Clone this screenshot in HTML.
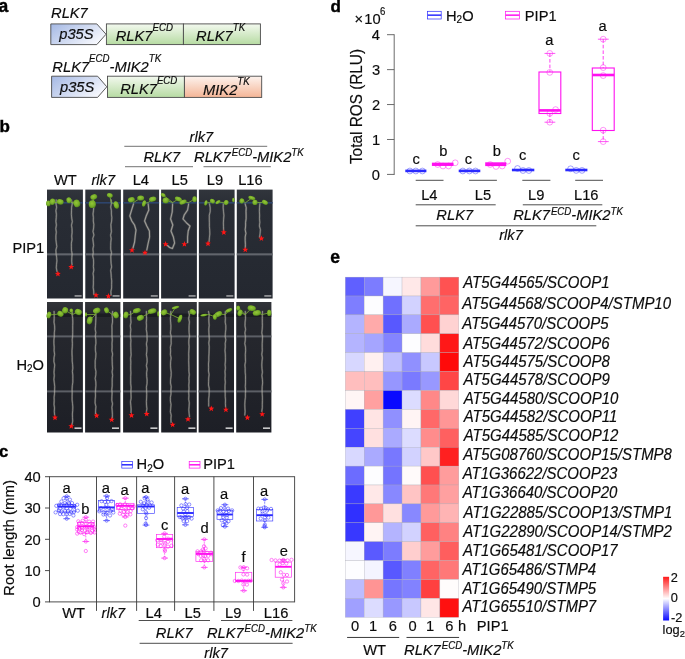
<!DOCTYPE html>
<html><head><meta charset="utf-8"><title>Figure</title>
<style>
html,body{margin:0;padding:0;background:#fff;}
svg{display:block;font-family:"Liberation Sans",sans-serif;fill:#0c0c0c;opacity:0.999;}
text{stroke:#0c0c0c;stroke-width:0.16px;}
</style></head>
<body>
<svg width="685" height="659" viewBox="0 0 685 659">
<defs>
<radialGradient id="lf" cx="0.45" cy="0.4" r="0.65"><stop offset="0" stop-color="#94c638"/><stop offset="0.6" stop-color="#76ad29"/><stop offset="1" stop-color="#4c7e19"/></radialGradient>
<filter id="soft" x="-5%" y="-5%" width="110%" height="110%"><feGaussianBlur stdDeviation="0.35"/></filter>
<linearGradient id="gb" x1="0" y1="0" x2="1" y2="0.55"><stop offset="0" stop-color="#a4b8e4"/><stop offset="1" stop-color="#f4f6fc"/></linearGradient>
<linearGradient id="gg" x1="0" y1="0" x2="0" y2="1"><stop offset="0" stop-color="#f3f9ef"/><stop offset="1" stop-color="#b6dba2"/></linearGradient>
<linearGradient id="go" x1="0" y1="0" x2="0" y2="1"><stop offset="0" stop-color="#fdf3ee"/><stop offset="1" stop-color="#f4b596"/></linearGradient>
<linearGradient id="pd" x1="0" y1="0" x2="0" y2="1"><stop offset="0" stop-color="#31353c"/><stop offset="0.14" stop-color="#292d35"/><stop offset="1" stop-color="#242830"/></linearGradient>
<linearGradient id="pd2" x1="0" y1="0" x2="0" y2="1"><stop offset="0" stop-color="#323439"/><stop offset="0.1" stop-color="#27292f"/><stop offset="1" stop-color="#1d1f26"/></linearGradient>
<linearGradient id="cb" x1="0" y1="0" x2="0" y2="1"><stop offset="0" stop-color="#ff1a1a"/><stop offset="0.5" stop-color="#ffffff"/><stop offset="1" stop-color="#0a0aff"/></linearGradient>
</defs>
<rect x="0" y="0" width="685" height="659" fill="#ffffff"/>
<text transform="translate(-1.40 11.90) scale(1 1.000)" font-size="17.5" font-weight="bold" style="fill:#000;stroke:#000;stroke-width:0.4px">a</text>
<text transform="translate(51.05 18.00) scale(1 1.042)" font-size="14.7" font-style="italic">RLK7</text>
<path d="M50.8 23.9H96.8L106.0 34.25L96.8 44.6H50.8Z" fill="url(#gb)" stroke="#4a4a4a" stroke-width="0.9"/>
<rect x="106.4" y="23.9" width="77.0" height="20.700000000000003" fill="url(#gg)" stroke="#4a4a4a" stroke-width="0.9"/>
<rect x="183.4" y="23.9" width="76.99999999999997" height="20.700000000000003" fill="url(#gg)" stroke="#4a4a4a" stroke-width="0.9"/>
<text transform="translate(59.27 39.20) scale(1 1.032)" font-size="14.7" font-style="italic">p35S</text>
<text transform="translate(115.75 41.00) scale(1 1.042)" font-size="14.7" font-style="italic">RLK7<tspan font-size="9.7" dy="-9.6">ECD</tspan><tspan dy="9.6" font-size="1">&#8203;</tspan></text>
<text transform="translate(196.05 41.40) scale(1 1.042)" font-size="14.7" font-style="italic">RLK7<tspan font-size="9.7" dy="-9.6">TK</tspan><tspan dy="9.6" font-size="1">&#8203;</tspan></text>
<text transform="translate(52.35 72.40) scale(1 1.042)" font-size="14.7" font-style="italic">RLK7<tspan font-size="9.7" dy="-10">ECD</tspan><tspan dy="10" font-size="1">&#8203;</tspan>-MIK2<tspan font-size="9.7" dy="-10">TK</tspan><tspan dy="10" font-size="1">&#8203;</tspan></text>
<path d="M51.6 76.2H97.6L106.8 86.80000000000001L97.6 97.4H51.6Z" fill="url(#gb)" stroke="#4a4a4a" stroke-width="0.9"/>
<rect x="107.5" y="76.2" width="76.9" height="21.200000000000003" fill="url(#gg)" stroke="#4a4a4a" stroke-width="0.9"/>
<rect x="184.4" y="76.2" width="77.29999999999998" height="21.200000000000003" fill="url(#go)" stroke="#4a4a4a" stroke-width="0.9"/>
<text transform="translate(59.97 92.20) scale(1 1.032)" font-size="14.7" font-style="italic">p35S</text>
<text transform="translate(120.15 94.30) scale(1 1.042)" font-size="14.7" font-style="italic">RLK7<tspan font-size="9.7" dy="-9.6">ECD</tspan><tspan dy="9.6" font-size="1">&#8203;</tspan></text>
<text transform="translate(203.05 95.00) scale(1 1.042)" font-size="14.7" font-style="italic">MIK2<tspan font-size="9.7" dy="-9.6">TK</tspan><tspan dy="9.6" font-size="1">&#8203;</tspan></text>
<text transform="translate(-0.60 132.30) scale(1 1.000)" font-size="17" font-weight="bold" style="fill:#000;stroke:#000;stroke-width:0.4px">b</text>
<text transform="translate(201.45 142.10) scale(1 1.010)" font-size="14.7" font-style="italic" text-anchor="middle">rlk7</text>
<line x1="124.30" y1="146.40" x2="267.20" y2="146.40" stroke="#8e8e8e" stroke-width="1.25"/>
<text transform="translate(143.45 161.50) scale(1 1.042)" font-size="14.7" font-style="italic">RLK7</text>
<text transform="translate(194.05 161.50) scale(1 1.042)" font-size="14.7" font-style="italic">RLK7<tspan font-size="9.7" dy="-5.3" dx="0.9">ECD</tspan><tspan dy="5.3" font-size="1">&#8203;</tspan>-MIK2<tspan font-size="9.7" dy="-5.3">TK</tspan><tspan dy="5.3" font-size="1">&#8203;</tspan></text>
<line x1="125.00" y1="166.70" x2="193.00" y2="166.70" stroke="#8e8e8e" stroke-width="1.25"/>
<line x1="203.50" y1="166.70" x2="270.80" y2="166.70" stroke="#8e8e8e" stroke-width="1.25"/>
<text transform="translate(53.94 185.30) scale(1 1.042)" font-size="14.7">WT</text>
<text transform="translate(91.46 185.30) scale(1 1.010)" font-size="14.7" font-style="italic">rlk7</text>
<text transform="translate(132.69 185.30) scale(1 1.042)" font-size="14.7">L4</text>
<text transform="translate(171.59 185.30) scale(1 1.042)" font-size="14.7">L5</text>
<text transform="translate(206.79 185.30) scale(1 1.042)" font-size="14.7">L9</text>
<text transform="translate(238.19 185.30) scale(1 1.042)" font-size="14.7">L16</text>
<text transform="translate(12.39 253.00) scale(1 1.042)" font-size="14.7">PIP1</text>
<text transform="translate(16.39 369.80) scale(1 1.042)" font-size="14.7">H<tspan font-size="10.0" dy="2.3">2</tspan><tspan dy="-2.3">O</tspan></text>
<rect x="47.0" y="189.6" width="35.9" height="108.9" fill="url(#pd)"/>
<rect x="47.0" y="202" width="35.9" height="1.6" fill="#2d446c"/>
<rect x="47.0" y="253.3" width="35.9" height="2.1" fill="#62656c"/>
<rect x="74.6" y="295.4" width="7" height="1.1" fill="#cfcfcf"/>
<rect x="85.3" y="189.6" width="35.6" height="108.9" fill="url(#pd)"/>
<rect x="85.3" y="202" width="35.6" height="1.6" fill="#2d446c"/>
<rect x="85.3" y="253.3" width="35.6" height="2.1" fill="#62656c"/>
<rect x="112.6" y="295.4" width="7" height="1.1" fill="#cfcfcf"/>
<rect x="123.2" y="189.6" width="35.9" height="108.9" fill="url(#pd)"/>
<rect x="123.2" y="202" width="35.9" height="1.6" fill="#2d446c"/>
<rect x="123.2" y="253.3" width="35.9" height="2.1" fill="#62656c"/>
<rect x="150.8" y="295.4" width="7" height="1.1" fill="#cfcfcf"/>
<rect x="161.1" y="189.6" width="35.8" height="108.9" fill="url(#pd)"/>
<rect x="161.1" y="202" width="35.8" height="1.6" fill="#2d446c"/>
<rect x="161.1" y="253.3" width="35.8" height="2.1" fill="#62656c"/>
<rect x="188.6" y="295.4" width="7" height="1.1" fill="#cfcfcf"/>
<rect x="198.9" y="189.6" width="35.7" height="108.9" fill="url(#pd)"/>
<rect x="198.9" y="202" width="35.7" height="1.6" fill="#2d446c"/>
<rect x="198.9" y="253.3" width="35.7" height="2.1" fill="#62656c"/>
<rect x="226.3" y="295.4" width="7" height="1.1" fill="#cfcfcf"/>
<rect x="236.8" y="189.6" width="35.8" height="108.9" fill="url(#pd)"/>
<rect x="236.8" y="202" width="35.8" height="1.6" fill="#2d446c"/>
<rect x="236.8" y="253.3" width="35.8" height="2.1" fill="#62656c"/>
<rect x="264.3" y="295.4" width="7" height="1.1" fill="#cfcfcf"/>
<rect x="47.0" y="302.0" width="35.9" height="130.5" fill="url(#pd2)"/>
<rect x="47.0" y="335.4" width="35.9" height="2" fill="#5c5f66"/>
<rect x="47.0" y="390.4" width="35.9" height="2" fill="#5c5f66"/>
<rect x="47.0" y="313.6" width="35.9" height="3.4" fill="#14161b" fill-opacity="0.6"/>
<rect x="74.5" y="427.5" width="7" height="1.3" fill="#f2f2f2"/>
<rect x="85.1" y="302.0" width="35.3" height="130.5" fill="url(#pd2)"/>
<rect x="85.1" y="335.4" width="35.3" height="2" fill="#5c5f66"/>
<rect x="85.1" y="390.4" width="35.3" height="2" fill="#5c5f66"/>
<rect x="85.1" y="313.6" width="35.3" height="3.4" fill="#14161b" fill-opacity="0.6"/>
<rect x="112.0" y="427.5" width="7" height="1.3" fill="#f2f2f2"/>
<rect x="123.1" y="302.0" width="35.7" height="130.5" fill="url(#pd2)"/>
<rect x="123.1" y="335.4" width="35.7" height="2" fill="#5c5f66"/>
<rect x="123.1" y="390.4" width="35.7" height="2" fill="#5c5f66"/>
<rect x="123.1" y="313.6" width="35.7" height="3.4" fill="#14161b" fill-opacity="0.6"/>
<rect x="150.4" y="427.5" width="7" height="1.3" fill="#f2f2f2"/>
<rect x="161.2" y="302.0" width="35.6" height="130.5" fill="url(#pd2)"/>
<rect x="161.2" y="335.4" width="35.6" height="2" fill="#5c5f66"/>
<rect x="161.2" y="390.4" width="35.6" height="2" fill="#5c5f66"/>
<rect x="161.2" y="313.6" width="35.6" height="3.4" fill="#14161b" fill-opacity="0.6"/>
<rect x="188.4" y="427.5" width="7" height="1.3" fill="#f2f2f2"/>
<rect x="198.6" y="302.0" width="35.4" height="130.5" fill="url(#pd2)"/>
<rect x="198.6" y="335.4" width="35.4" height="2" fill="#5c5f66"/>
<rect x="198.6" y="390.4" width="35.4" height="2" fill="#5c5f66"/>
<rect x="198.6" y="313.6" width="35.4" height="3.4" fill="#14161b" fill-opacity="0.6"/>
<rect x="225.6" y="427.5" width="7" height="1.3" fill="#f2f2f2"/>
<rect x="236.2" y="302.0" width="35.2" height="130.5" fill="url(#pd2)"/>
<rect x="236.2" y="335.4" width="35.2" height="2" fill="#5c5f66"/>
<rect x="236.2" y="390.4" width="35.2" height="2" fill="#5c5f66"/>
<rect x="236.2" y="313.6" width="35.2" height="3.4" fill="#14161b" fill-opacity="0.6"/>
<rect x="263.0" y="427.5" width="7" height="1.3" fill="#f2f2f2"/>
<g filter="url(#soft)">
<path d="M56.2 200.0 L56.0 203.6 L56.6 207.2 L55.9 210.7 L56.4 214.3 L56.2 217.9 L55.9 221.4 L56.4 225.0 L55.8 228.6 L56.3 232.2 L55.9 235.8 L55.9 239.3 L56.3 242.9 L56.8 246.5 L55.9 250.1 L56.1 253.6 L56.6 257.2 L56.9 260.8 L56.5 264.4 L56.3 267.9 L57.0 271.5" fill="none" stroke="#a9a69d" stroke-width="1.95" stroke-opacity="0.3" stroke-linejoin="round" stroke-linecap="round"/>
<path d="M56.2 200.0 L56.0 203.6 L56.6 207.2 L55.9 210.7 L56.4 214.3 L56.2 217.9 L55.9 221.4 L56.4 225.0 L55.8 228.6 L56.3 232.2 L55.9 235.8 L55.9 239.3 L56.3 242.9 L56.8 246.5 L55.9 250.1 L56.1 253.6 L56.6 257.2 L56.9 260.8 L56.5 264.4 L56.3 267.9 L57.0 271.5" fill="none" stroke="#c9c6bc" stroke-width="0.75" stroke-opacity="0.66" stroke-linejoin="round" stroke-linecap="round"/>
<polygon points="57.90,270.75 58.68,272.83 60.90,272.93 59.16,274.31 59.75,276.45 57.90,275.22 56.05,276.45 56.64,274.31 54.90,272.93 57.12,272.83" fill="#ff1414"/>
<path d="M71.4 200.0 L72.3 203.6 L71.6 207.2 L71.5 210.8 L71.4 214.4 L71.7 218.0 L72.3 221.6 L71.5 225.2 L72.0 228.8 L72.1 232.4 L71.7 236.0 L72.0 239.6 L71.4 243.2 L71.4 246.8 L71.5 250.4 L72.1 254.0 L71.8 257.6 L71.7 261.2 L72.0 264.8" fill="none" stroke="#a9a69d" stroke-width="1.95" stroke-opacity="0.3" stroke-linejoin="round" stroke-linecap="round"/>
<path d="M71.4 200.0 L72.3 203.6 L71.6 207.2 L71.5 210.8 L71.4 214.4 L71.7 218.0 L72.3 221.6 L71.5 225.2 L72.0 228.8 L72.1 232.4 L71.7 236.0 L72.0 239.6 L71.4 243.2 L71.4 246.8 L71.5 250.4 L72.1 254.0 L71.8 257.6 L71.7 261.2 L72.0 264.8" fill="none" stroke="#c9c6bc" stroke-width="0.75" stroke-opacity="0.66" stroke-linejoin="round" stroke-linecap="round"/>
<polygon points="71.20,263.85 71.98,265.93 74.20,266.03 72.46,267.41 73.05,269.55 71.20,268.32 69.35,269.55 69.94,267.41 68.20,266.03 70.42,265.93" fill="#ff1414"/>
<path d="M93.2 200.0 L93.1 203.5 L93.7 207.0 L93.5 210.5 L93.0 214.0 L93.4 217.5 L93.3 221.0 L93.8 224.5 L93.6 228.0 L93.0 231.5 L93.9 235.0 L92.8 238.5 L93.2 242.0 L93.6 245.5 L92.9 249.0 L93.3 252.5 L92.7 256.0 L93.5 259.5 L93.6 263.0 L93.4 266.5 L93.8 270.0 L93.1 273.5 L93.5 277.0 L93.4 280.5 L93.4 284.0 L93.2 287.5 L93.7 291.0 L93.8 294.5" fill="none" stroke="#a9a69d" stroke-width="1.95" stroke-opacity="0.3" stroke-linejoin="round" stroke-linecap="round"/>
<path d="M93.2 200.0 L93.1 203.5 L93.7 207.0 L93.5 210.5 L93.0 214.0 L93.4 217.5 L93.3 221.0 L93.8 224.5 L93.6 228.0 L93.0 231.5 L93.9 235.0 L92.8 238.5 L93.2 242.0 L93.6 245.5 L92.9 249.0 L93.3 252.5 L92.7 256.0 L93.5 259.5 L93.6 263.0 L93.4 266.5 L93.8 270.0 L93.1 273.5 L93.5 277.0 L93.4 280.5 L93.4 284.0 L93.2 287.5 L93.7 291.0 L93.8 294.5" fill="none" stroke="#c9c6bc" stroke-width="0.75" stroke-opacity="0.66" stroke-linejoin="round" stroke-linecap="round"/>
<polygon points="96.00,292.05 96.78,294.13 99.00,294.23 97.26,295.61 97.85,297.75 96.00,296.52 94.15,297.75 94.74,295.61 93.00,294.23 95.22,294.13" fill="#ff1414"/>
<path d="M111.2 200.0 L111.4 203.5 L110.7 207.0 L111.4 210.6 L111.4 214.1 L111.8 217.6 L111.6 221.1 L110.9 224.6 L111.1 228.1 L111.4 231.7 L110.6 235.2 L111.2 238.7 L110.8 242.2 L110.7 245.7 L110.7 249.3 L111.5 252.8 L110.8 256.3 L110.9 259.8 L111.1 263.3 L111.6 266.9 L110.7 270.4 L111.1 273.9 L111.3 277.4 L111.7 280.9 L111.6 284.4 L111.6 288.0 L110.9 291.5 L111.1 295.0" fill="none" stroke="#a9a69d" stroke-width="1.95" stroke-opacity="0.3" stroke-linejoin="round" stroke-linecap="round"/>
<path d="M111.2 200.0 L111.4 203.5 L110.7 207.0 L111.4 210.6 L111.4 214.1 L111.8 217.6 L111.6 221.1 L110.9 224.6 L111.1 228.1 L111.4 231.7 L110.6 235.2 L111.2 238.7 L110.8 242.2 L110.7 245.7 L110.7 249.3 L111.5 252.8 L110.8 256.3 L110.9 259.8 L111.1 263.3 L111.6 266.9 L110.7 270.4 L111.1 273.9 L111.3 277.4 L111.7 280.9 L111.6 284.4 L111.6 288.0 L110.9 291.5 L111.1 295.0" fill="none" stroke="#c9c6bc" stroke-width="0.75" stroke-opacity="0.66" stroke-linejoin="round" stroke-linecap="round"/>
<polygon points="108.40,293.05 109.18,295.13 111.40,295.23 109.66,296.61 110.25,298.75 108.40,297.52 106.55,298.75 107.14,296.61 105.40,295.23 107.62,295.13" fill="#ff1414"/>
<path d="M133.5 204.0 L131.6 210.0 L129.8 216.0 L131.8 221.0 L134.5 225.0 L136.0 230.0 L135.2 236.0 L134.6 242.0 L133.0 248.0" fill="none" stroke="#a9a69d" stroke-width="2.25" stroke-opacity="0.3" stroke-linejoin="round" stroke-linecap="round"/>
<path d="M133.5 204.0 L131.6 210.0 L129.8 216.0 L131.8 221.0 L134.5 225.0 L136.0 230.0 L135.2 236.0 L134.6 242.0 L133.0 248.0" fill="none" stroke="#c9c6bc" stroke-width="1.05" stroke-opacity="0.66" stroke-linejoin="round" stroke-linecap="round"/>
<polygon points="132.00,247.05 132.78,249.13 135.00,249.23 133.26,250.61 133.85,252.75 132.00,251.52 130.15,252.75 130.74,250.61 129.00,249.23 131.22,249.13" fill="#ff1414"/>
<path d="M148.2 204.0 L148.8 210.0 L146.2 216.0 L144.6 221.0 L146.8 226.0 L149.4 231.0 L149.6 237.0 L148.2 243.0 L146.8 250.0" fill="none" stroke="#a9a69d" stroke-width="2.25" stroke-opacity="0.3" stroke-linejoin="round" stroke-linecap="round"/>
<path d="M148.2 204.0 L148.8 210.0 L146.2 216.0 L144.6 221.0 L146.8 226.0 L149.4 231.0 L149.6 237.0 L148.2 243.0 L146.8 250.0" fill="none" stroke="#c9c6bc" stroke-width="1.05" stroke-opacity="0.66" stroke-linejoin="round" stroke-linecap="round"/>
<polygon points="145.00,249.65 145.78,251.73 148.00,251.83 146.26,253.21 146.85,255.35 145.00,254.12 143.15,255.35 143.74,253.21 142.00,251.83 144.22,251.73" fill="#ff1414"/>
<path d="M172.6 204.0 L172.2 212.0 L170.6 219.0 L172.8 225.0 L171.0 231.0 L173.4 237.0 L174.6 243.0 L172.4 248.5 L169.6 247.5 L167.5 245.5" fill="none" stroke="#a9a69d" stroke-width="2.25" stroke-opacity="0.3" stroke-linejoin="round" stroke-linecap="round"/>
<path d="M172.6 204.0 L172.2 212.0 L170.6 219.0 L172.8 225.0 L171.0 231.0 L173.4 237.0 L174.6 243.0 L172.4 248.5 L169.6 247.5 L167.5 245.5" fill="none" stroke="#c9c6bc" stroke-width="1.05" stroke-opacity="0.66" stroke-linejoin="round" stroke-linecap="round"/>
<polygon points="165.60,241.05 166.38,243.13 168.60,243.23 166.86,244.61 167.45,246.75 165.60,245.52 163.75,246.75 164.34,244.61 162.60,243.23 164.82,243.13" fill="#ff1414"/>
<path d="M188.6 204.0 L187.6 210.0 L184.2 215.0 L183.0 219.0 L186.6 223.0 L190.0 226.0 L188.2 231.0 L187.6 237.0 L187.6 242.5" fill="none" stroke="#a9a69d" stroke-width="2.25" stroke-opacity="0.3" stroke-linejoin="round" stroke-linecap="round"/>
<path d="M188.6 204.0 L187.6 210.0 L184.2 215.0 L183.0 219.0 L186.6 223.0 L190.0 226.0 L188.2 231.0 L187.6 237.0 L187.6 242.5" fill="none" stroke="#c9c6bc" stroke-width="1.05" stroke-opacity="0.66" stroke-linejoin="round" stroke-linecap="round"/>
<polygon points="184.40,241.05 185.18,243.13 187.40,243.23 185.66,244.61 186.25,246.75 184.40,245.52 182.55,246.75 183.14,244.61 181.40,243.23 183.62,243.13" fill="#ff1414"/>
<path d="M209.5 204.0 L210.2 207.8 L210.2 211.5 L209.3 215.2 L209.3 219.0 L209.4 222.8 L209.4 226.5 L209.7 230.2 L209.8 234.0 L209.4 237.8 L209.1 241.5" fill="none" stroke="#a9a69d" stroke-width="1.95" stroke-opacity="0.3" stroke-linejoin="round" stroke-linecap="round"/>
<path d="M209.5 204.0 L210.2 207.8 L210.2 211.5 L209.3 215.2 L209.3 219.0 L209.4 222.8 L209.4 226.5 L209.7 230.2 L209.8 234.0 L209.4 237.8 L209.1 241.5" fill="none" stroke="#c9c6bc" stroke-width="0.75" stroke-opacity="0.66" stroke-linejoin="round" stroke-linecap="round"/>
<polygon points="208.00,240.45 208.78,242.53 211.00,242.63 209.26,244.01 209.85,246.15 208.00,244.92 206.15,246.15 206.74,244.01 205.00,242.63 207.22,242.53" fill="#ff1414"/>
<path d="M223.3 204.0 L223.2 207.8 L223.5 211.6 L223.9 215.4 L223.6 219.1 L223.4 222.9 L223.5 226.7 L223.6 230.5" fill="none" stroke="#a9a69d" stroke-width="1.95" stroke-opacity="0.3" stroke-linejoin="round" stroke-linecap="round"/>
<path d="M223.3 204.0 L223.2 207.8 L223.5 211.6 L223.9 215.4 L223.6 219.1 L223.4 222.9 L223.5 226.7 L223.6 230.5" fill="none" stroke="#c9c6bc" stroke-width="0.75" stroke-opacity="0.66" stroke-linejoin="round" stroke-linecap="round"/>
<polygon points="223.80,229.25 224.58,231.33 226.80,231.43 225.06,232.81 225.65,234.95 223.80,233.72 221.95,234.95 222.54,232.81 220.80,231.43 223.02,231.33" fill="#ff1414"/>
<path d="M245.2 204.0 L246.2 207.7 L246.0 211.3 L246.1 215.0 L246.1 218.7 L245.6 222.3 L245.6 226.0 L245.2 229.7 L245.9 233.3 L245.2 237.0 L245.2 240.7 L245.4 244.3 L245.3 248.0" fill="none" stroke="#a9a69d" stroke-width="2.15" stroke-opacity="0.3" stroke-linejoin="round" stroke-linecap="round"/>
<path d="M245.2 204.0 L246.2 207.7 L246.0 211.3 L246.1 215.0 L246.1 218.7 L245.6 222.3 L245.6 226.0 L245.2 229.7 L245.9 233.3 L245.2 237.0 L245.2 240.7 L245.4 244.3 L245.3 248.0" fill="none" stroke="#c9c6bc" stroke-width="0.95" stroke-opacity="0.66" stroke-linejoin="round" stroke-linecap="round"/>
<polygon points="245.30,246.65 246.08,248.73 248.30,248.83 246.56,250.21 247.15,252.35 245.30,251.12 243.45,252.35 244.04,250.21 242.30,248.83 244.52,248.73" fill="#ff1414"/>
<path d="M259.8 204.0 L259.5 207.7 L259.4 211.3 L259.6 215.0 L259.5 218.7 L259.8 222.3 L259.4 226.0 L260.4 229.7 L260.1 233.3 L259.6 237.0" fill="none" stroke="#a9a69d" stroke-width="1.95" stroke-opacity="0.3" stroke-linejoin="round" stroke-linecap="round"/>
<path d="M259.8 204.0 L259.5 207.7 L259.4 211.3 L259.6 215.0 L259.5 218.7 L259.8 222.3 L259.4 226.0 L260.4 229.7 L260.1 233.3 L259.6 237.0" fill="none" stroke="#c9c6bc" stroke-width="0.75" stroke-opacity="0.66" stroke-linejoin="round" stroke-linecap="round"/>
<polygon points="261.40,235.35 262.18,237.43 264.40,237.53 262.66,238.91 263.25,241.05 261.40,239.82 259.55,241.05 260.14,238.91 258.40,237.53 260.62,237.43" fill="#ff1414"/>
<line x1="48.4" y1="203.4" x2="56.4" y2="202.5" stroke="#7fae3a" stroke-width="0.9" stroke-opacity="0.9"/>
<ellipse cx="48.4" cy="203.4" rx="2.4" ry="2.8" fill="url(#lf)" transform="rotate(0 48.4 203.4)"/>
<line x1="52.4" y1="201.8" x2="56.4" y2="202.5" stroke="#7fae3a" stroke-width="0.9" stroke-opacity="0.9"/>
<ellipse cx="52.4" cy="201.8" rx="2.8" ry="3.2" fill="url(#lf)" transform="rotate(20 52.4 201.8)"/>
<line x1="60.2" y1="201.8" x2="56.4" y2="202.5" stroke="#7fae3a" stroke-width="0.9" stroke-opacity="0.9"/>
<ellipse cx="60.2" cy="201.8" rx="3.5" ry="2.7" fill="url(#lf)" transform="rotate(15 60.2 201.8)"/>
<line x1="69.0" y1="200.2" x2="71.9" y2="202.5" stroke="#7fae3a" stroke-width="0.9" stroke-opacity="0.9"/>
<ellipse cx="69.0" cy="200.2" rx="2.6" ry="3.0" fill="url(#lf)" transform="rotate(-10 69.0 200.2)"/>
<line x1="76.8" y1="203.4" x2="71.9" y2="202.5" stroke="#7fae3a" stroke-width="0.9" stroke-opacity="0.9"/>
<ellipse cx="76.8" cy="203.4" rx="3.4" ry="3.8" fill="url(#lf)" transform="rotate(-20 76.8 203.4)"/>
<line x1="93.8" y1="197.0" x2="93.3" y2="202.5" stroke="#7fae3a" stroke-width="0.9" stroke-opacity="0.9"/>
<ellipse cx="93.8" cy="197.0" rx="3.5" ry="2.7" fill="url(#lf)" transform="rotate(-20 93.8 197.0)"/>
<line x1="92.3" y1="204.2" x2="93.3" y2="202.5" stroke="#7fae3a" stroke-width="0.9" stroke-opacity="0.9"/>
<ellipse cx="92.3" cy="204.2" rx="3.6" ry="3.9" fill="url(#lf)" transform="rotate(0 92.3 204.2)"/>
<line x1="109.8" y1="195.4" x2="111.2" y2="202.5" stroke="#7fae3a" stroke-width="0.9" stroke-opacity="0.9"/>
<ellipse cx="109.8" cy="195.4" rx="3.0" ry="2.3" fill="url(#lf)" transform="rotate(20 109.8 195.4)"/>
<line x1="116.3" y1="205.0" x2="111.2" y2="202.5" stroke="#7fae3a" stroke-width="0.9" stroke-opacity="0.9"/>
<ellipse cx="116.3" cy="205.0" rx="2.6" ry="3.9" fill="url(#lf)" transform="rotate(-15 116.3 205.0)"/>
<line x1="131.4" y1="199.8" x2="133.5" y2="202.5" stroke="#7fae3a" stroke-width="0.9" stroke-opacity="0.9"/>
<ellipse cx="131.4" cy="199.8" rx="3.5" ry="2.6" fill="url(#lf)" transform="rotate(-15 131.4 199.8)"/>
<line x1="140.7" y1="198.0" x2="133.5" y2="202.5" stroke="#7fae3a" stroke-width="0.9" stroke-opacity="0.9"/>
<ellipse cx="140.7" cy="198.0" rx="3.5" ry="2.6" fill="url(#lf)" transform="rotate(0 140.7 198.0)"/>
<line x1="144.0" y1="203.5" x2="148.2" y2="202.5" stroke="#7fae3a" stroke-width="0.9" stroke-opacity="0.9"/>
<ellipse cx="144.0" cy="203.5" rx="1.9" ry="3.3" fill="url(#lf)" transform="rotate(15 144.0 203.5)"/>
<line x1="152.7" y1="199.2" x2="148.2" y2="202.5" stroke="#7fae3a" stroke-width="0.9" stroke-opacity="0.9"/>
<ellipse cx="152.7" cy="199.2" rx="3.7" ry="2.5" fill="url(#lf)" transform="rotate(-15 152.7 199.2)"/>
<line x1="163.2" y1="195.1" x2="172.6" y2="202.5" stroke="#7fae3a" stroke-width="0.9" stroke-opacity="0.9"/>
<ellipse cx="163.2" cy="195.1" rx="2.6" ry="1.9" fill="url(#lf)" transform="rotate(30 163.2 195.1)"/>
<line x1="165.8" y1="200.4" x2="172.6" y2="202.5" stroke="#7fae3a" stroke-width="0.9" stroke-opacity="0.9"/>
<ellipse cx="165.8" cy="200.4" rx="3.2" ry="3.0" fill="url(#lf)" transform="rotate(0 165.8 200.4)"/>
<line x1="178.4" y1="199.1" x2="172.6" y2="202.5" stroke="#7fae3a" stroke-width="0.9" stroke-opacity="0.9"/>
<ellipse cx="178.4" cy="199.1" rx="3.7" ry="2.2" fill="url(#lf)" transform="rotate(25 178.4 199.1)"/>
<line x1="183.1" y1="202.1" x2="188.6" y2="202.5" stroke="#7fae3a" stroke-width="0.9" stroke-opacity="0.9"/>
<ellipse cx="183.1" cy="202.1" rx="3.8" ry="2.2" fill="url(#lf)" transform="rotate(-25 183.1 202.1)"/>
<line x1="194.6" y1="199.2" x2="188.6" y2="202.5" stroke="#7fae3a" stroke-width="0.9" stroke-opacity="0.9"/>
<ellipse cx="194.6" cy="199.2" rx="2.3" ry="3.0" fill="url(#lf)" transform="rotate(0 194.6 199.2)"/>
<line x1="205.9" y1="202.9" x2="209.7" y2="202.5" stroke="#7fae3a" stroke-width="0.9" stroke-opacity="0.9"/>
<ellipse cx="205.9" cy="202.9" rx="1.6" ry="2.8" fill="url(#lf)" transform="rotate(15 205.9 202.9)"/>
<line x1="212.4" y1="201.2" x2="209.7" y2="202.5" stroke="#7fae3a" stroke-width="0.9" stroke-opacity="0.9"/>
<ellipse cx="212.4" cy="201.2" rx="2.7" ry="2.2" fill="url(#lf)" transform="rotate(30 212.4 201.2)"/>
<line x1="218.0" y1="202.1" x2="223.4" y2="202.5" stroke="#7fae3a" stroke-width="0.9" stroke-opacity="0.9"/>
<ellipse cx="218.0" cy="202.1" rx="2.8" ry="1.6" fill="url(#lf)" transform="rotate(-30 218.0 202.1)"/>
<line x1="226.1" y1="202.6" x2="223.4" y2="202.5" stroke="#7fae3a" stroke-width="0.9" stroke-opacity="0.9"/>
<ellipse cx="226.1" cy="202.6" rx="2.4" ry="2.6" fill="url(#lf)" transform="rotate(30 226.1 202.6)"/>
<ellipse cx="233.4" cy="200.0" rx="1.3" ry="2.2" fill="url(#lf)" transform="rotate(0 233.4 200.0)"/>
<line x1="241.8" y1="201.0" x2="245.7" y2="202.5" stroke="#7fae3a" stroke-width="0.9" stroke-opacity="0.9"/>
<ellipse cx="241.8" cy="201.0" rx="2.4" ry="2.6" fill="url(#lf)" transform="rotate(30 241.8 201.0)"/>
<line x1="251.8" y1="198.0" x2="245.7" y2="202.5" stroke="#7fae3a" stroke-width="0.9" stroke-opacity="0.9"/>
<ellipse cx="251.8" cy="198.0" rx="3.6" ry="1.9" fill="url(#lf)" transform="rotate(15 251.8 198.0)"/>
<line x1="255.0" y1="202.4" x2="260.0" y2="202.5" stroke="#7fae3a" stroke-width="0.9" stroke-opacity="0.9"/>
<ellipse cx="255.0" cy="202.4" rx="2.6" ry="2.6" fill="url(#lf)" transform="rotate(0 255.0 202.4)"/>
<line x1="264.9" y1="202.4" x2="260.0" y2="202.5" stroke="#7fae3a" stroke-width="0.9" stroke-opacity="0.9"/>
<ellipse cx="264.9" cy="202.4" rx="3.2" ry="2.2" fill="url(#lf)" transform="rotate(30 264.9 202.4)"/>
<path d="M54.1 311.5 L54.2 315.1 L54.2 318.6 L54.0 322.2 L54.6 325.8 L54.7 329.3 L54.3 332.9 L54.3 336.5 L53.9 340.1 L53.9 343.6 L54.2 347.2 L54.1 350.8 L54.6 354.3 L54.0 357.9 L53.9 361.5 L54.7 365.0 L54.3 368.6 L54.0 372.2 L54.3 375.7 L53.9 379.3 L54.3 382.9 L54.7 386.4 L54.6 390.0 L54.5 393.6 L54.1 397.2 L54.2 400.7 L54.0 404.3 L54.5 407.9 L54.3 411.4 L54.6 415.0" fill="none" stroke="#a9a69d" stroke-width="1.95" stroke-opacity="0.3" stroke-linejoin="round" stroke-linecap="round"/>
<path d="M54.1 311.5 L54.2 315.1 L54.2 318.6 L54.0 322.2 L54.6 325.8 L54.7 329.3 L54.3 332.9 L54.3 336.5 L53.9 340.1 L53.9 343.6 L54.2 347.2 L54.1 350.8 L54.6 354.3 L54.0 357.9 L53.9 361.5 L54.7 365.0 L54.3 368.6 L54.0 372.2 L54.3 375.7 L53.9 379.3 L54.3 382.9 L54.7 386.4 L54.6 390.0 L54.5 393.6 L54.1 397.2 L54.2 400.7 L54.0 404.3 L54.5 407.9 L54.3 411.4 L54.6 415.0" fill="none" stroke="#c9c6bc" stroke-width="0.75" stroke-opacity="0.66" stroke-linejoin="round" stroke-linecap="round"/>
<polygon points="55.00,414.45 55.78,416.53 58.00,416.63 56.26,418.01 56.85,420.15 55.00,418.92 53.15,420.15 53.74,418.01 52.00,416.63 54.22,416.53" fill="#ff1414"/>
<path d="M72.2 311.5 L72.2 315.0 L72.7 318.6 L72.8 322.1 L72.7 325.6 L72.7 329.2 L72.7 332.7 L72.6 336.2 L72.2 339.8 L72.4 343.3 L72.3 346.8 L72.0 350.4 L72.0 353.9 L72.2 357.4 L72.2 361.0 L72.6 364.5 L72.8 368.1 L72.4 371.6 L72.8 375.1 L72.8 378.7 L72.8 382.2 L72.3 385.7 L72.1 389.3 L72.2 392.8 L72.1 396.3 L72.1 399.9 L72.5 403.4 L72.8 406.9 L72.7 410.5 L72.4 414.0 L72.5 417.5 L72.7 421.1 L72.0 424.6" fill="none" stroke="#a9a69d" stroke-width="1.95" stroke-opacity="0.3" stroke-linejoin="round" stroke-linecap="round"/>
<path d="M72.2 311.5 L72.2 315.0 L72.7 318.6 L72.8 322.1 L72.7 325.6 L72.7 329.2 L72.7 332.7 L72.6 336.2 L72.2 339.8 L72.4 343.3 L72.3 346.8 L72.0 350.4 L72.0 353.9 L72.2 357.4 L72.2 361.0 L72.6 364.5 L72.8 368.1 L72.4 371.6 L72.8 375.1 L72.8 378.7 L72.8 382.2 L72.3 385.7 L72.1 389.3 L72.2 392.8 L72.1 396.3 L72.1 399.9 L72.5 403.4 L72.8 406.9 L72.7 410.5 L72.4 414.0 L72.5 417.5 L72.7 421.1 L72.0 424.6" fill="none" stroke="#c9c6bc" stroke-width="0.75" stroke-opacity="0.66" stroke-linejoin="round" stroke-linecap="round"/>
<polygon points="71.30,423.05 72.08,425.13 74.30,425.23 72.56,426.61 73.15,428.75 71.30,427.52 69.45,428.75 70.04,426.61 68.30,425.23 70.52,425.13" fill="#ff1414"/>
<path d="M95.6 311.5 L95.9 315.0 L95.8 318.5 L95.7 322.1 L95.5 325.6 L95.2 329.1 L95.8 332.6 L95.3 336.1 L95.8 339.7 L95.9 343.2 L95.4 346.7 L95.4 350.2 L95.9 353.7 L95.7 357.3 L95.2 360.8 L95.2 364.3 L95.2 367.8 L95.9 371.4 L95.8 374.9 L95.2 378.4 L95.8 381.9 L95.9 385.4 L95.6 389.0 L95.4 392.5 L95.5 396.0 L95.2 399.5 L95.1 403.0 L95.9 406.6 L95.6 410.1 L95.5 413.6" fill="none" stroke="#a9a69d" stroke-width="1.95" stroke-opacity="0.3" stroke-linejoin="round" stroke-linecap="round"/>
<path d="M95.6 311.5 L95.9 315.0 L95.8 318.5 L95.7 322.1 L95.5 325.6 L95.2 329.1 L95.8 332.6 L95.3 336.1 L95.8 339.7 L95.9 343.2 L95.4 346.7 L95.4 350.2 L95.9 353.7 L95.7 357.3 L95.2 360.8 L95.2 364.3 L95.2 367.8 L95.9 371.4 L95.8 374.9 L95.2 378.4 L95.8 381.9 L95.9 385.4 L95.6 389.0 L95.4 392.5 L95.5 396.0 L95.2 399.5 L95.1 403.0 L95.9 406.6 L95.6 410.1 L95.5 413.6" fill="none" stroke="#c9c6bc" stroke-width="0.75" stroke-opacity="0.66" stroke-linejoin="round" stroke-linecap="round"/>
<polygon points="96.60,412.45 97.38,414.53 99.60,414.63 97.86,416.01 98.45,418.15 96.60,416.92 94.75,418.15 95.34,416.01 93.60,414.63 95.82,414.53" fill="#ff1414"/>
<path d="M112.6 311.5 L112.1 315.1 L112.5 318.6 L112.5 322.1 L111.9 325.7 L112.0 329.2 L112.0 332.8 L112.0 336.4 L112.3 339.9 L112.0 343.4 L112.1 347.0 L111.9 350.6 L112.6 354.1 L112.1 357.6 L112.2 361.2 L112.3 364.8 L112.6 368.3 L112.1 371.9 L112.6 375.4 L112.2 378.9 L112.2 382.5 L112.2 386.1 L111.8 389.6 L112.1 393.1 L111.9 396.7 L111.8 400.2 L112.5 403.8 L111.9 407.4 L112.2 410.9 L112.4 414.4 L112.3 418.0" fill="none" stroke="#a9a69d" stroke-width="1.95" stroke-opacity="0.3" stroke-linejoin="round" stroke-linecap="round"/>
<path d="M112.6 311.5 L112.1 315.1 L112.5 318.6 L112.5 322.1 L111.9 325.7 L112.0 329.2 L112.0 332.8 L112.0 336.4 L112.3 339.9 L112.0 343.4 L112.1 347.0 L111.9 350.6 L112.6 354.1 L112.1 357.6 L112.2 361.2 L112.3 364.8 L112.6 368.3 L112.1 371.9 L112.6 375.4 L112.2 378.9 L112.2 382.5 L112.2 386.1 L111.8 389.6 L112.1 393.1 L111.9 396.7 L111.8 400.2 L112.5 403.8 L111.9 407.4 L112.2 410.9 L112.4 414.4 L112.3 418.0" fill="none" stroke="#c9c6bc" stroke-width="0.75" stroke-opacity="0.66" stroke-linejoin="round" stroke-linecap="round"/>
<polygon points="111.70,416.65 112.48,418.73 114.70,418.83 112.96,420.21 113.55,422.35 111.70,421.12 109.85,422.35 110.44,420.21 108.70,418.83 110.92,418.73" fill="#ff1414"/>
<path d="M130.5 311.5 L130.7 315.1 L130.7 318.7 L131.0 322.3 L130.3 325.9 L130.8 329.6 L130.5 333.2 L130.5 336.8 L130.9 340.4 L130.7 344.0 L130.8 347.6 L130.9 351.2 L131.1 354.8 L130.6 358.4 L130.8 362.1 L130.7 365.7 L130.7 369.3 L130.9 372.9 L130.7 376.5 L130.7 380.1 L130.7 383.7 L131.1 387.3 L130.9 390.9 L131.0 394.5 L131.1 398.2 L130.5 401.8 L130.8 405.4 L131.1 409.0 L131.0 412.6" fill="none" stroke="#a9a69d" stroke-width="1.95" stroke-opacity="0.3" stroke-linejoin="round" stroke-linecap="round"/>
<path d="M130.5 311.5 L130.7 315.1 L130.7 318.7 L131.0 322.3 L130.3 325.9 L130.8 329.6 L130.5 333.2 L130.5 336.8 L130.9 340.4 L130.7 344.0 L130.8 347.6 L130.9 351.2 L131.1 354.8 L130.6 358.4 L130.8 362.1 L130.7 365.7 L130.7 369.3 L130.9 372.9 L130.7 376.5 L130.7 380.1 L130.7 383.7 L131.1 387.3 L130.9 390.9 L131.0 394.5 L131.1 398.2 L130.5 401.8 L130.8 405.4 L131.1 409.0 L131.0 412.6" fill="none" stroke="#c9c6bc" stroke-width="0.75" stroke-opacity="0.66" stroke-linejoin="round" stroke-linecap="round"/>
<polygon points="131.50,412.25 132.28,414.33 134.50,414.43 132.76,415.81 133.35,417.95 131.50,416.72 129.65,417.95 130.24,415.81 128.50,414.43 130.72,414.33" fill="#ff1414"/>
<path d="M146.4 311.5 L146.4 315.1 L146.6 318.7 L146.3 322.3 L146.5 325.9 L146.3 329.5 L146.9 333.1 L147.0 336.7 L147.1 340.3 L146.4 343.9 L146.9 347.5 L146.8 351.1 L146.4 354.7 L147.0 358.3 L147.1 361.9 L146.4 365.6 L147.1 369.2 L146.6 372.8 L146.7 376.4 L147.1 380.0 L147.0 383.6 L146.4 387.2 L146.6 390.8 L146.7 394.4 L146.6 398.0 L146.4 401.6 L146.5 405.2 L146.9 408.8 L146.3 412.4" fill="none" stroke="#a9a69d" stroke-width="1.95" stroke-opacity="0.3" stroke-linejoin="round" stroke-linecap="round"/>
<path d="M146.4 311.5 L146.4 315.1 L146.6 318.7 L146.3 322.3 L146.5 325.9 L146.3 329.5 L146.9 333.1 L147.0 336.7 L147.1 340.3 L146.4 343.9 L146.9 347.5 L146.8 351.1 L146.4 354.7 L147.0 358.3 L147.1 361.9 L146.4 365.6 L147.1 369.2 L146.6 372.8 L146.7 376.4 L147.1 380.0 L147.0 383.6 L146.4 387.2 L146.6 390.8 L146.7 394.4 L146.6 398.0 L146.4 401.6 L146.5 405.2 L146.9 408.8 L146.3 412.4" fill="none" stroke="#c9c6bc" stroke-width="0.75" stroke-opacity="0.66" stroke-linejoin="round" stroke-linecap="round"/>
<polygon points="146.70,410.85 147.48,412.93 149.70,413.03 147.96,414.41 148.55,416.55 146.70,415.32 144.85,416.55 145.44,414.41 143.70,413.03 145.92,412.93" fill="#ff1414"/>
<path d="M170.8 311.5 L170.7 315.1 L170.4 318.7 L170.6 322.2 L170.9 325.8 L170.8 329.4 L170.4 333.0 L171.2 336.5 L171.1 340.1 L171.2 343.7 L170.4 347.3 L170.6 350.9 L170.4 354.4 L171.1 358.0 L170.6 361.6 L170.5 365.2 L170.7 368.7 L171.2 372.3 L171.1 375.9 L170.6 379.5 L170.5 383.0 L171.2 386.6 L170.9 390.2 L171.0 393.8 L170.4 397.4 L170.4 400.9 L171.0 404.5 L170.7 408.1 L170.4 411.7 L171.2 415.2 L170.9 418.8 L171.1 422.4" fill="none" stroke="#a9a69d" stroke-width="1.95" stroke-opacity="0.3" stroke-linejoin="round" stroke-linecap="round"/>
<path d="M170.8 311.5 L170.7 315.1 L170.4 318.7 L170.6 322.2 L170.9 325.8 L170.8 329.4 L170.4 333.0 L171.2 336.5 L171.1 340.1 L171.2 343.7 L170.4 347.3 L170.6 350.9 L170.4 354.4 L171.1 358.0 L170.6 361.6 L170.5 365.2 L170.7 368.7 L171.2 372.3 L171.1 375.9 L170.6 379.5 L170.5 383.0 L171.2 386.6 L170.9 390.2 L171.0 393.8 L170.4 397.4 L170.4 400.9 L171.0 404.5 L170.7 408.1 L170.4 411.7 L171.2 415.2 L170.9 418.8 L171.1 422.4" fill="none" stroke="#c9c6bc" stroke-width="0.75" stroke-opacity="0.66" stroke-linejoin="round" stroke-linecap="round"/>
<polygon points="172.60,421.65 173.38,423.73 175.60,423.83 173.86,425.21 174.45,427.35 172.60,426.12 170.75,427.35 171.34,425.21 169.60,423.83 171.82,423.73" fill="#ff1414"/>
<path d="M188.7 311.5 L189.4 315.0 L188.7 318.5 L189.4 322.0 L189.1 325.5 L189.0 329.1 L189.1 332.6 L189.5 336.1 L188.9 339.6 L188.8 343.1 L189.1 346.6 L188.9 350.1 L188.7 353.6 L188.8 357.1 L188.7 360.6 L188.8 364.1 L188.9 367.7 L188.9 371.2 L189.3 374.7 L188.9 378.2 L189.1 381.7 L188.8 385.2 L189.0 388.7 L188.7 392.2 L188.9 395.7 L188.7 399.2 L189.3 402.8 L189.1 406.3 L188.8 409.8 L189.1 413.3 L189.5 416.8" fill="none" stroke="#a9a69d" stroke-width="1.95" stroke-opacity="0.3" stroke-linejoin="round" stroke-linecap="round"/>
<path d="M188.7 311.5 L189.4 315.0 L188.7 318.5 L189.4 322.0 L189.1 325.5 L189.0 329.1 L189.1 332.6 L189.5 336.1 L188.9 339.6 L188.8 343.1 L189.1 346.6 L188.9 350.1 L188.7 353.6 L188.8 357.1 L188.7 360.6 L188.8 364.1 L188.9 367.7 L188.9 371.2 L189.3 374.7 L188.9 378.2 L189.1 381.7 L188.8 385.2 L189.0 388.7 L188.7 392.2 L188.9 395.7 L188.7 399.2 L189.3 402.8 L189.1 406.3 L188.8 409.8 L189.1 413.3 L189.5 416.8" fill="none" stroke="#c9c6bc" stroke-width="0.75" stroke-opacity="0.66" stroke-linejoin="round" stroke-linecap="round"/>
<polygon points="188.00,416.15 188.78,418.23 191.00,418.33 189.26,419.71 189.85,421.85 188.00,420.62 186.15,421.85 186.74,419.71 185.00,418.33 187.22,418.23" fill="#ff1414"/>
<path d="M208.5 311.5 L209.2 315.0 L208.8 318.5 L208.9 322.0 L209.2 325.5 L208.8 329.0 L208.9 332.5 L209.1 336.0 L209.3 339.5 L208.8 343.0 L209.2 346.5 L209.1 350.0 L209.0 353.5 L208.8 357.0 L208.8 360.5 L208.5 364.0 L208.6 367.5 L208.5 371.0 L209.1 374.5 L208.7 378.0 L208.6 381.5 L208.5 385.0 L209.2 388.5 L209.2 392.0 L209.1 395.5 L208.7 399.0 L208.7 402.5 L208.7 406.0" fill="none" stroke="#a9a69d" stroke-width="1.95" stroke-opacity="0.3" stroke-linejoin="round" stroke-linecap="round"/>
<path d="M208.5 311.5 L209.2 315.0 L208.8 318.5 L208.9 322.0 L209.2 325.5 L208.8 329.0 L208.9 332.5 L209.1 336.0 L209.3 339.5 L208.8 343.0 L209.2 346.5 L209.1 350.0 L209.0 353.5 L208.8 357.0 L208.8 360.5 L208.5 364.0 L208.6 367.5 L208.5 371.0 L209.1 374.5 L208.7 378.0 L208.6 381.5 L208.5 385.0 L209.2 388.5 L209.2 392.0 L209.1 395.5 L208.7 399.0 L208.7 402.5 L208.7 406.0" fill="none" stroke="#c9c6bc" stroke-width="0.75" stroke-opacity="0.66" stroke-linejoin="round" stroke-linecap="round"/>
<polygon points="211.30,405.45 212.08,407.53 214.30,407.63 212.56,409.01 213.15,411.15 211.30,409.92 209.45,411.15 210.04,409.01 208.30,407.63 210.52,407.53" fill="#ff1414"/>
<path d="M225.4 311.5 L225.1 315.0 L225.4 318.6 L225.2 322.1 L225.8 325.6 L225.8 329.2 L225.4 332.7 L225.2 336.3 L225.8 339.8 L225.2 343.3 L225.3 346.9 L225.0 350.4 L225.3 353.9 L225.4 357.5 L225.4 361.0 L225.1 364.6 L225.4 368.1 L225.0 371.6 L225.2 375.2 L225.0 378.7 L225.3 382.2 L225.0 385.8 L225.0 389.3 L225.2 392.9 L225.2 396.4 L225.5 399.9 L225.4 403.5 L225.6 407.0" fill="none" stroke="#a9a69d" stroke-width="1.95" stroke-opacity="0.3" stroke-linejoin="round" stroke-linecap="round"/>
<path d="M225.4 311.5 L225.1 315.0 L225.4 318.6 L225.2 322.1 L225.8 325.6 L225.8 329.2 L225.4 332.7 L225.2 336.3 L225.8 339.8 L225.2 343.3 L225.3 346.9 L225.0 350.4 L225.3 353.9 L225.4 357.5 L225.4 361.0 L225.1 364.6 L225.4 368.1 L225.0 371.6 L225.2 375.2 L225.0 378.7 L225.3 382.2 L225.0 385.8 L225.0 389.3 L225.2 392.9 L225.2 396.4 L225.5 399.9 L225.4 403.5 L225.6 407.0" fill="none" stroke="#c9c6bc" stroke-width="0.75" stroke-opacity="0.66" stroke-linejoin="round" stroke-linecap="round"/>
<polygon points="225.90,406.55 226.68,408.63 228.90,408.73 227.16,410.11 227.75,412.25 225.90,411.02 224.05,412.25 224.64,410.11 222.90,408.73 225.12,408.63" fill="#ff1414"/>
<path d="M245.3 311.5 L245.4 315.1 L245.5 318.6 L245.1 322.2 L245.0 325.8 L245.6 329.3 L244.9 332.9 L245.4 336.5 L245.3 340.1 L244.8 343.6 L245.5 347.2 L245.6 350.8 L245.3 354.3 L245.4 357.9 L245.5 361.5 L244.9 365.0 L245.2 368.6 L245.2 372.2 L245.5 375.7 L245.5 379.3 L245.5 382.9 L245.3 386.4 L245.6 390.0 L245.4 393.6 L245.4 397.2 L245.0 400.7 L244.8 404.3 L244.9 407.9 L245.1 411.4 L244.8 415.0" fill="none" stroke="#a9a69d" stroke-width="1.95" stroke-opacity="0.3" stroke-linejoin="round" stroke-linecap="round"/>
<path d="M245.3 311.5 L245.4 315.1 L245.5 318.6 L245.1 322.2 L245.0 325.8 L245.6 329.3 L244.9 332.9 L245.4 336.5 L245.3 340.1 L244.8 343.6 L245.5 347.2 L245.6 350.8 L245.3 354.3 L245.4 357.9 L245.5 361.5 L244.9 365.0 L245.2 368.6 L245.2 372.2 L245.5 375.7 L245.5 379.3 L245.5 382.9 L245.3 386.4 L245.6 390.0 L245.4 393.6 L245.4 397.2 L245.0 400.7 L244.8 404.3 L244.9 407.9 L245.1 411.4 L244.8 415.0" fill="none" stroke="#c9c6bc" stroke-width="0.75" stroke-opacity="0.66" stroke-linejoin="round" stroke-linecap="round"/>
<polygon points="247.40,414.45 248.18,416.53 250.40,416.63 248.66,418.01 249.25,420.15 247.40,418.92 245.55,420.15 246.14,418.01 244.40,416.63 246.62,416.53" fill="#ff1414"/>
<path d="M262.5 311.5 L262.3 315.1 L262.3 318.6 L262.3 322.2 L262.4 325.8 L262.2 329.3 L261.8 332.9 L262.5 336.5 L262.4 340.0 L262.2 343.6 L262.2 347.2 L262.3 350.7 L261.8 354.3 L262.4 357.9 L262.0 361.4 L261.8 365.0 L262.0 368.6 L262.4 372.2 L261.9 375.7 L262.4 379.3 L262.6 382.9 L262.2 386.4 L262.1 390.0 L262.2 393.6 L262.4 397.1 L262.4 400.7 L262.3 404.3 L262.3 407.8 L261.8 411.4" fill="none" stroke="#a9a69d" stroke-width="1.95" stroke-opacity="0.3" stroke-linejoin="round" stroke-linecap="round"/>
<path d="M262.5 311.5 L262.3 315.1 L262.3 318.6 L262.3 322.2 L262.4 325.8 L262.2 329.3 L261.8 332.9 L262.5 336.5 L262.4 340.0 L262.2 343.6 L262.2 347.2 L262.3 350.7 L261.8 354.3 L262.4 357.9 L262.0 361.4 L261.8 365.0 L262.0 368.6 L262.4 372.2 L261.9 375.7 L262.4 379.3 L262.6 382.9 L262.2 386.4 L262.1 390.0 L262.2 393.6 L262.4 397.1 L262.4 400.7 L262.3 404.3 L262.3 407.8 L261.8 411.4" fill="none" stroke="#c9c6bc" stroke-width="0.75" stroke-opacity="0.66" stroke-linejoin="round" stroke-linecap="round"/>
<polygon points="262.20,411.15 262.98,413.23 265.20,413.33 263.46,414.71 264.05,416.85 262.20,415.62 260.35,416.85 260.94,414.71 259.20,413.33 261.42,413.23" fill="#ff1414"/>
<line x1="48.9" y1="315.0" x2="54.3" y2="314.5" stroke="#7fae3a" stroke-width="0.9" stroke-opacity="0.9"/>
<ellipse cx="48.9" cy="315.0" rx="2.3" ry="3.4" fill="url(#lf)" transform="rotate(15 48.9 315.0)"/>
<line x1="60.4" y1="313.8" x2="54.3" y2="314.5" stroke="#7fae3a" stroke-width="0.9" stroke-opacity="0.9"/>
<ellipse cx="60.4" cy="313.8" rx="3.3" ry="2.8" fill="url(#lf)" transform="rotate(30 60.4 313.8)"/>
<line x1="65.1" y1="310.3" x2="72.4" y2="314.5" stroke="#7fae3a" stroke-width="0.9" stroke-opacity="0.9"/>
<ellipse cx="65.1" cy="310.3" rx="3.0" ry="3.2" fill="url(#lf)" transform="rotate(20 65.1 310.3)"/>
<line x1="71.3" y1="310.6" x2="72.4" y2="314.5" stroke="#7fae3a" stroke-width="0.9" stroke-opacity="0.9"/>
<ellipse cx="71.3" cy="310.6" rx="1.8" ry="2.2" fill="url(#lf)" transform="rotate(0 71.3 310.6)"/>
<line x1="78.3" y1="312.0" x2="72.4" y2="314.5" stroke="#7fae3a" stroke-width="0.9" stroke-opacity="0.9"/>
<ellipse cx="78.3" cy="312.0" rx="3.6" ry="3.0" fill="url(#lf)" transform="rotate(20 78.3 312.0)"/>
<line x1="86.0" y1="314.6" x2="95.5" y2="314.5" stroke="#7fae3a" stroke-width="0.9" stroke-opacity="0.9"/>
<ellipse cx="86.0" cy="314.6" rx="1.0" ry="2.4" fill="url(#lf)" transform="rotate(0 86.0 314.6)"/>
<line x1="89.7" y1="320.4" x2="95.5" y2="314.5" stroke="#7fae3a" stroke-width="0.9" stroke-opacity="0.9"/>
<ellipse cx="89.7" cy="320.4" rx="2.8" ry="4.0" fill="url(#lf)" transform="rotate(15 89.7 320.4)"/>
<line x1="96.7" y1="310.6" x2="95.5" y2="314.5" stroke="#7fae3a" stroke-width="0.9" stroke-opacity="0.9"/>
<ellipse cx="96.7" cy="310.6" rx="3.8" ry="2.8" fill="url(#lf)" transform="rotate(-20 96.7 310.6)"/>
<line x1="106.6" y1="310.3" x2="112.2" y2="314.5" stroke="#7fae3a" stroke-width="0.9" stroke-opacity="0.9"/>
<ellipse cx="106.6" cy="310.3" rx="2.4" ry="3.0" fill="url(#lf)" transform="rotate(-20 106.6 310.3)"/>
<line x1="115.9" y1="315.0" x2="112.2" y2="314.5" stroke="#7fae3a" stroke-width="0.9" stroke-opacity="0.9"/>
<ellipse cx="115.9" cy="315.0" rx="2.8" ry="3.4" fill="url(#lf)" transform="rotate(-25 115.9 315.0)"/>
<line x1="125.9" y1="315.0" x2="130.7" y2="314.5" stroke="#7fae3a" stroke-width="0.9" stroke-opacity="0.9"/>
<ellipse cx="125.9" cy="315.0" rx="2.6" ry="3.4" fill="url(#lf)" transform="rotate(15 125.9 315.0)"/>
<line x1="136.9" y1="310.6" x2="130.7" y2="314.5" stroke="#7fae3a" stroke-width="0.9" stroke-opacity="0.9"/>
<ellipse cx="136.9" cy="310.6" rx="4.0" ry="2.4" fill="url(#lf)" transform="rotate(-15 136.9 310.6)"/>
<line x1="140.4" y1="317.8" x2="146.7" y2="314.5" stroke="#7fae3a" stroke-width="0.9" stroke-opacity="0.9"/>
<ellipse cx="140.4" cy="317.8" rx="3.6" ry="2.8" fill="url(#lf)" transform="rotate(-25 140.4 317.8)"/>
<line x1="152.2" y1="311.1" x2="146.7" y2="314.5" stroke="#7fae3a" stroke-width="0.9" stroke-opacity="0.9"/>
<ellipse cx="152.2" cy="311.1" rx="4.4" ry="2.6" fill="url(#lf)" transform="rotate(-15 152.2 311.1)"/>
<ellipse cx="158.2" cy="314.0" rx="1.0" ry="3.0" fill="url(#lf)" transform="rotate(0 158.2 314.0)"/>
<line x1="164.1" y1="312.4" x2="170.8" y2="314.5" stroke="#7fae3a" stroke-width="0.9" stroke-opacity="0.9"/>
<ellipse cx="164.1" cy="312.4" rx="3.4" ry="2.8" fill="url(#lf)" transform="rotate(-30 164.1 312.4)"/>
<line x1="175.5" y1="307.6" x2="170.8" y2="314.5" stroke="#7fae3a" stroke-width="0.9" stroke-opacity="0.9"/>
<ellipse cx="175.5" cy="307.6" rx="3.8" ry="1.4" fill="url(#lf)" transform="rotate(-15 175.5 307.6)"/>
<line x1="179.9" y1="318.7" x2="170.8" y2="314.5" stroke="#7fae3a" stroke-width="0.9" stroke-opacity="0.9"/>
<ellipse cx="179.9" cy="318.7" rx="2.0" ry="4.2" fill="url(#lf)" transform="rotate(20 179.9 318.7)"/>
<line x1="192.7" y1="312.0" x2="189.1" y2="314.5" stroke="#7fae3a" stroke-width="0.9" stroke-opacity="0.9"/>
<ellipse cx="192.7" cy="312.0" rx="3.4" ry="2.6" fill="url(#lf)" transform="rotate(30 192.7 312.0)"/>
<line x1="203.9" y1="315.2" x2="208.9" y2="314.5" stroke="#7fae3a" stroke-width="0.9" stroke-opacity="0.9"/>
<ellipse cx="203.9" cy="315.2" rx="3.6" ry="1.2" fill="url(#lf)" transform="rotate(-10 203.9 315.2)"/>
<line x1="218.4" y1="314.1" x2="225.4" y2="314.5" stroke="#7fae3a" stroke-width="0.9" stroke-opacity="0.9"/>
<ellipse cx="218.4" cy="314.1" rx="4.0" ry="2.6" fill="url(#lf)" transform="rotate(-25 218.4 314.1)"/>
<line x1="214.9" y1="316.9" x2="208.9" y2="314.5" stroke="#7fae3a" stroke-width="0.9" stroke-opacity="0.9"/>
<ellipse cx="214.9" cy="316.9" rx="2.0" ry="2.8" fill="url(#lf)" transform="rotate(0 214.9 316.9)"/>
<line x1="228.9" y1="310.3" x2="225.4" y2="314.5" stroke="#7fae3a" stroke-width="0.9" stroke-opacity="0.9"/>
<ellipse cx="228.9" cy="310.3" rx="3.6" ry="1.8" fill="url(#lf)" transform="rotate(-25 228.9 310.3)"/>
<line x1="238.2" y1="308.2" x2="245.2" y2="314.5" stroke="#7fae3a" stroke-width="0.9" stroke-opacity="0.9"/>
<ellipse cx="238.2" cy="308.2" rx="2.0" ry="2.6" fill="url(#lf)" transform="rotate(0 238.2 308.2)"/>
<line x1="240.0" y1="312.9" x2="245.2" y2="314.5" stroke="#7fae3a" stroke-width="0.9" stroke-opacity="0.9"/>
<ellipse cx="240.0" cy="312.9" rx="2.4" ry="3.4" fill="url(#lf)" transform="rotate(20 240.0 312.9)"/>
<line x1="251.7" y1="308.2" x2="245.2" y2="314.5" stroke="#7fae3a" stroke-width="0.9" stroke-opacity="0.9"/>
<ellipse cx="251.7" cy="308.2" rx="4.2" ry="2.8" fill="url(#lf)" transform="rotate(10 251.7 308.2)"/>
<line x1="256.9" y1="312.9" x2="262.2" y2="314.5" stroke="#7fae3a" stroke-width="0.9" stroke-opacity="0.9"/>
<ellipse cx="256.9" cy="312.9" rx="4.2" ry="2.8" fill="url(#lf)" transform="rotate(-10 256.9 312.9)"/>
<line x1="269.2" y1="312.9" x2="262.2" y2="314.5" stroke="#7fae3a" stroke-width="0.9" stroke-opacity="0.9"/>
<ellipse cx="269.2" cy="312.9" rx="2.1" ry="3.2" fill="url(#lf)" transform="rotate(0 269.2 312.9)"/>
</g>
<text transform="translate(-1.00 456.50) scale(1 1.000)" font-size="16.6" font-weight="bold" style="fill:#000;stroke:#000;stroke-width:0.4px">c</text>
<rect x="121.8" y="461.5" width="10.8" height="6.6" fill="none" stroke="#2a2aff" stroke-width="0.7"/>
<line x1="121.8" y1="464.80" x2="132.6" y2="464.80" stroke="#2a2aff" stroke-width="1.5"/>
<text transform="translate(136.59 469.20) scale(1 1.042)" font-size="14.7">H<tspan font-size="10.0" dy="2.3">2</tspan><tspan dy="-2.3">O</tspan></text>
<rect x="189.2" y="461.5" width="10.8" height="6.6" fill="none" stroke="#ff10f0" stroke-width="0.7"/>
<line x1="189.2" y1="464.80" x2="200.0" y2="464.80" stroke="#ff10f0" stroke-width="1.5"/>
<text transform="translate(203.19 469.20) scale(1 1.042)" font-size="14.7">PIP1</text>
<line x1="49.50" y1="476.70" x2="294.60" y2="476.70" stroke="#3a3a3a" stroke-width="0.9"/>
<line x1="49.50" y1="601.90" x2="294.60" y2="601.90" stroke="#3a3a3a" stroke-width="0.9"/>
<line x1="49.50" y1="476.30" x2="49.50" y2="602.30" stroke="#3a3a3a" stroke-width="0.9"/>
<line x1="294.60" y1="476.30" x2="294.60" y2="602.30" stroke="#3a3a3a" stroke-width="0.9"/>
<line x1="96.50" y1="476.70" x2="96.50" y2="610.90" stroke="#3a3a3a" stroke-width="0.9"/>
<line x1="136.60" y1="476.70" x2="136.60" y2="610.90" stroke="#3a3a3a" stroke-width="0.9"/>
<line x1="174.60" y1="476.70" x2="174.60" y2="610.90" stroke="#3a3a3a" stroke-width="0.9"/>
<line x1="213.90" y1="476.70" x2="213.90" y2="610.90" stroke="#3a3a3a" stroke-width="0.9"/>
<line x1="253.50" y1="476.70" x2="253.50" y2="610.90" stroke="#3a3a3a" stroke-width="0.9"/>
<line x1="45.00" y1="476.70" x2="49.50" y2="476.70" stroke="#3a3a3a" stroke-width="0.9"/>
<text transform="translate(40.77 482.00) scale(1 1.042)" font-size="14.7" text-anchor="end">40</text>
<line x1="45.00" y1="508.00" x2="49.50" y2="508.00" stroke="#3a3a3a" stroke-width="0.9"/>
<text transform="translate(40.77 513.30) scale(1 1.042)" font-size="14.7" text-anchor="end">30</text>
<line x1="45.00" y1="539.30" x2="49.50" y2="539.30" stroke="#3a3a3a" stroke-width="0.9"/>
<text transform="translate(40.77 544.60) scale(1 1.042)" font-size="14.7" text-anchor="end">20</text>
<line x1="45.00" y1="570.60" x2="49.50" y2="570.60" stroke="#3a3a3a" stroke-width="0.9"/>
<text transform="translate(40.77 575.90) scale(1 1.042)" font-size="14.7" text-anchor="end">10</text>
<line x1="45.00" y1="601.90" x2="49.50" y2="601.90" stroke="#3a3a3a" stroke-width="0.9"/>
<text transform="translate(40.77 607.20) scale(1 1.042)" font-size="14.7" text-anchor="end">0</text>
<text transform="translate(13.5 538.0) rotate(-90) scale(1 1.012)" font-size="15.0" text-anchor="middle">Root length (mm)</text>
<circle cx="55.6" cy="512.4" r="1.65" fill="none" stroke="#2a2aff" stroke-width="0.6" stroke-opacity="0.85"/>
<circle cx="58.9" cy="510.5" r="1.65" fill="none" stroke="#2a2aff" stroke-width="0.6" stroke-opacity="0.85"/>
<circle cx="61.5" cy="511.5" r="1.65" fill="none" stroke="#2a2aff" stroke-width="0.6" stroke-opacity="0.85"/>
<circle cx="65.1" cy="511.1" r="1.65" fill="none" stroke="#2a2aff" stroke-width="0.6" stroke-opacity="0.85"/>
<circle cx="67.8" cy="511.2" r="1.65" fill="none" stroke="#2a2aff" stroke-width="0.6" stroke-opacity="0.85"/>
<circle cx="71.1" cy="512.2" r="1.65" fill="none" stroke="#2a2aff" stroke-width="0.6" stroke-opacity="0.85"/>
<circle cx="73.9" cy="512.1" r="1.65" fill="none" stroke="#2a2aff" stroke-width="0.6" stroke-opacity="0.85"/>
<circle cx="77.8" cy="510.7" r="1.65" fill="none" stroke="#2a2aff" stroke-width="0.6" stroke-opacity="0.85"/>
<circle cx="56.3" cy="505.8" r="1.65" fill="none" stroke="#2a2aff" stroke-width="0.6" stroke-opacity="0.85"/>
<circle cx="59.0" cy="504.8" r="1.65" fill="none" stroke="#2a2aff" stroke-width="0.6" stroke-opacity="0.85"/>
<circle cx="61.1" cy="505.1" r="1.65" fill="none" stroke="#2a2aff" stroke-width="0.6" stroke-opacity="0.85"/>
<circle cx="64.4" cy="505.5" r="1.65" fill="none" stroke="#2a2aff" stroke-width="0.6" stroke-opacity="0.85"/>
<circle cx="66.5" cy="505.1" r="1.65" fill="none" stroke="#2a2aff" stroke-width="0.6" stroke-opacity="0.85"/>
<circle cx="69.1" cy="504.3" r="1.65" fill="none" stroke="#2a2aff" stroke-width="0.6" stroke-opacity="0.85"/>
<circle cx="71.7" cy="506.0" r="1.65" fill="none" stroke="#2a2aff" stroke-width="0.6" stroke-opacity="0.85"/>
<circle cx="74.5" cy="506.3" r="1.65" fill="none" stroke="#2a2aff" stroke-width="0.6" stroke-opacity="0.85"/>
<circle cx="77.2" cy="504.8" r="1.65" fill="none" stroke="#2a2aff" stroke-width="0.6" stroke-opacity="0.85"/>
<circle cx="61.4" cy="501.5" r="1.65" fill="none" stroke="#2a2aff" stroke-width="0.6" stroke-opacity="0.85"/>
<circle cx="64.8" cy="503.2" r="1.65" fill="none" stroke="#2a2aff" stroke-width="0.6" stroke-opacity="0.85"/>
<circle cx="68.8" cy="502.9" r="1.65" fill="none" stroke="#2a2aff" stroke-width="0.6" stroke-opacity="0.85"/>
<circle cx="72.0" cy="503.1" r="1.65" fill="none" stroke="#2a2aff" stroke-width="0.6" stroke-opacity="0.85"/>
<circle cx="60.1" cy="508.5" r="1.65" fill="none" stroke="#2a2aff" stroke-width="0.6" stroke-opacity="0.85"/>
<circle cx="63.4" cy="507.4" r="1.65" fill="none" stroke="#2a2aff" stroke-width="0.6" stroke-opacity="0.85"/>
<circle cx="66.9" cy="508.3" r="1.65" fill="none" stroke="#2a2aff" stroke-width="0.6" stroke-opacity="0.85"/>
<circle cx="70.4" cy="508.7" r="1.65" fill="none" stroke="#2a2aff" stroke-width="0.6" stroke-opacity="0.85"/>
<circle cx="73.4" cy="507.4" r="1.65" fill="none" stroke="#2a2aff" stroke-width="0.6" stroke-opacity="0.85"/>
<circle cx="63.6" cy="498.3" r="1.65" fill="none" stroke="#2a2aff" stroke-width="0.6" stroke-opacity="0.85"/>
<circle cx="66.6" cy="498.8" r="1.65" fill="none" stroke="#2a2aff" stroke-width="0.6" stroke-opacity="0.85"/>
<circle cx="69.9" cy="499.6" r="1.65" fill="none" stroke="#2a2aff" stroke-width="0.6" stroke-opacity="0.85"/>
<circle cx="60.1" cy="514.1" r="1.65" fill="none" stroke="#2a2aff" stroke-width="0.6" stroke-opacity="0.85"/>
<circle cx="63.3" cy="514.2" r="1.65" fill="none" stroke="#2a2aff" stroke-width="0.6" stroke-opacity="0.85"/>
<circle cx="66.7" cy="514.4" r="1.65" fill="none" stroke="#2a2aff" stroke-width="0.6" stroke-opacity="0.85"/>
<circle cx="69.8" cy="513.9" r="1.65" fill="none" stroke="#2a2aff" stroke-width="0.6" stroke-opacity="0.85"/>
<circle cx="73.4" cy="515.5" r="1.65" fill="none" stroke="#2a2aff" stroke-width="0.6" stroke-opacity="0.85"/>
<path d="M66.7 496.3V504.3M66.7 511.9V518.7" stroke="#2a2aff" stroke-width="0.6" fill="none" stroke-dasharray="1.6 1.1"/>
<path d="M63.3 496.3h6.8M63.3 518.7h6.8" stroke="#2a2aff" stroke-width="0.65" fill="none"/>
<circle cx="66.7" cy="496.3" r="1.6" fill="none" stroke="#2a2aff" stroke-width="0.55"/>
<circle cx="66.7" cy="518.7" r="1.6" fill="none" stroke="#2a2aff" stroke-width="0.55"/>
<rect x="57.9" y="504.3" width="17.5" height="7.6" fill="none" stroke="#2a2aff" stroke-width="0.65" stroke-opacity="0.9"/>
<line x1="57.9" y1="506.6" x2="75.4" y2="506.6" stroke="#2a2aff" stroke-width="1.9"/>
<circle cx="78.3" cy="521.3" r="1.65" fill="none" stroke="#ff10f0" stroke-width="0.6" stroke-opacity="0.85"/>
<circle cx="82.7" cy="520.7" r="1.65" fill="none" stroke="#ff10f0" stroke-width="0.6" stroke-opacity="0.85"/>
<circle cx="85.9" cy="519.7" r="1.65" fill="none" stroke="#ff10f0" stroke-width="0.6" stroke-opacity="0.85"/>
<circle cx="89.2" cy="521.7" r="1.65" fill="none" stroke="#ff10f0" stroke-width="0.6" stroke-opacity="0.85"/>
<circle cx="93.1" cy="521.6" r="1.65" fill="none" stroke="#ff10f0" stroke-width="0.6" stroke-opacity="0.85"/>
<circle cx="79.3" cy="523.3" r="1.65" fill="none" stroke="#ff10f0" stroke-width="0.6" stroke-opacity="0.85"/>
<circle cx="81.9" cy="523.1" r="1.65" fill="none" stroke="#ff10f0" stroke-width="0.6" stroke-opacity="0.85"/>
<circle cx="85.8" cy="524.3" r="1.65" fill="none" stroke="#ff10f0" stroke-width="0.6" stroke-opacity="0.85"/>
<circle cx="89.7" cy="524.4" r="1.65" fill="none" stroke="#ff10f0" stroke-width="0.6" stroke-opacity="0.85"/>
<circle cx="92.9" cy="524.5" r="1.65" fill="none" stroke="#ff10f0" stroke-width="0.6" stroke-opacity="0.85"/>
<circle cx="77.2" cy="527.1" r="1.65" fill="none" stroke="#ff10f0" stroke-width="0.6" stroke-opacity="0.85"/>
<circle cx="79.2" cy="527.6" r="1.65" fill="none" stroke="#ff10f0" stroke-width="0.6" stroke-opacity="0.85"/>
<circle cx="81.8" cy="527.9" r="1.65" fill="none" stroke="#ff10f0" stroke-width="0.6" stroke-opacity="0.85"/>
<circle cx="84.7" cy="526.6" r="1.65" fill="none" stroke="#ff10f0" stroke-width="0.6" stroke-opacity="0.85"/>
<circle cx="86.7" cy="526.5" r="1.65" fill="none" stroke="#ff10f0" stroke-width="0.6" stroke-opacity="0.85"/>
<circle cx="89.6" cy="527.4" r="1.65" fill="none" stroke="#ff10f0" stroke-width="0.6" stroke-opacity="0.85"/>
<circle cx="91.6" cy="526.1" r="1.65" fill="none" stroke="#ff10f0" stroke-width="0.6" stroke-opacity="0.85"/>
<circle cx="94.4" cy="527.2" r="1.65" fill="none" stroke="#ff10f0" stroke-width="0.6" stroke-opacity="0.85"/>
<circle cx="77.1" cy="529.5" r="1.65" fill="none" stroke="#ff10f0" stroke-width="0.6" stroke-opacity="0.85"/>
<circle cx="79.8" cy="529.0" r="1.65" fill="none" stroke="#ff10f0" stroke-width="0.6" stroke-opacity="0.85"/>
<circle cx="81.9" cy="530.0" r="1.65" fill="none" stroke="#ff10f0" stroke-width="0.6" stroke-opacity="0.85"/>
<circle cx="85.0" cy="530.4" r="1.65" fill="none" stroke="#ff10f0" stroke-width="0.6" stroke-opacity="0.85"/>
<circle cx="87.4" cy="530.0" r="1.65" fill="none" stroke="#ff10f0" stroke-width="0.6" stroke-opacity="0.85"/>
<circle cx="89.2" cy="529.5" r="1.65" fill="none" stroke="#ff10f0" stroke-width="0.6" stroke-opacity="0.85"/>
<circle cx="92.4" cy="530.6" r="1.65" fill="none" stroke="#ff10f0" stroke-width="0.6" stroke-opacity="0.85"/>
<circle cx="94.2" cy="529.0" r="1.65" fill="none" stroke="#ff10f0" stroke-width="0.6" stroke-opacity="0.85"/>
<circle cx="77.2" cy="533.6" r="1.65" fill="none" stroke="#ff10f0" stroke-width="0.6" stroke-opacity="0.85"/>
<circle cx="80.6" cy="532.7" r="1.65" fill="none" stroke="#ff10f0" stroke-width="0.6" stroke-opacity="0.85"/>
<circle cx="84.2" cy="534.1" r="1.65" fill="none" stroke="#ff10f0" stroke-width="0.6" stroke-opacity="0.85"/>
<circle cx="87.2" cy="532.2" r="1.65" fill="none" stroke="#ff10f0" stroke-width="0.6" stroke-opacity="0.85"/>
<circle cx="90.8" cy="533.0" r="1.65" fill="none" stroke="#ff10f0" stroke-width="0.6" stroke-opacity="0.85"/>
<circle cx="94.6" cy="532.5" r="1.65" fill="none" stroke="#ff10f0" stroke-width="0.6" stroke-opacity="0.85"/>
<circle cx="85.8" cy="551.0" r="1.65" fill="none" stroke="#ff10f0" stroke-width="0.6" stroke-opacity="0.85"/>
<path d="M85.8 517.2V522.5M85.8 533.1V541.5" stroke="#ff10f0" stroke-width="0.6" fill="none" stroke-dasharray="1.6 1.1"/>
<path d="M82.4 517.2h6.8M82.4 541.5h6.8" stroke="#ff10f0" stroke-width="0.65" fill="none"/>
<circle cx="85.8" cy="517.2" r="1.6" fill="none" stroke="#ff10f0" stroke-width="0.55"/>
<circle cx="85.8" cy="541.5" r="1.6" fill="none" stroke="#ff10f0" stroke-width="0.55"/>
<rect x="77.7" y="522.5" width="16.2" height="10.6" fill="none" stroke="#ff10f0" stroke-width="0.65" stroke-opacity="0.9"/>
<line x1="77.7" y1="526.3" x2="93.9" y2="526.3" stroke="#ff10f0" stroke-width="1.9"/>
<circle cx="99.2" cy="511.3" r="1.65" fill="none" stroke="#2a2aff" stroke-width="0.6" stroke-opacity="0.85"/>
<circle cx="103.5" cy="512.3" r="1.65" fill="none" stroke="#2a2aff" stroke-width="0.6" stroke-opacity="0.85"/>
<circle cx="106.8" cy="512.6" r="1.65" fill="none" stroke="#2a2aff" stroke-width="0.6" stroke-opacity="0.85"/>
<circle cx="110.5" cy="511.1" r="1.65" fill="none" stroke="#2a2aff" stroke-width="0.6" stroke-opacity="0.85"/>
<circle cx="113.3" cy="512.5" r="1.65" fill="none" stroke="#2a2aff" stroke-width="0.6" stroke-opacity="0.85"/>
<circle cx="101.6" cy="501.2" r="1.65" fill="none" stroke="#2a2aff" stroke-width="0.6" stroke-opacity="0.85"/>
<circle cx="105.0" cy="501.9" r="1.65" fill="none" stroke="#2a2aff" stroke-width="0.6" stroke-opacity="0.85"/>
<circle cx="108.2" cy="501.8" r="1.65" fill="none" stroke="#2a2aff" stroke-width="0.6" stroke-opacity="0.85"/>
<circle cx="111.5" cy="501.1" r="1.65" fill="none" stroke="#2a2aff" stroke-width="0.6" stroke-opacity="0.85"/>
<circle cx="101.1" cy="508.1" r="1.65" fill="none" stroke="#2a2aff" stroke-width="0.6" stroke-opacity="0.85"/>
<circle cx="105.3" cy="507.6" r="1.65" fill="none" stroke="#2a2aff" stroke-width="0.6" stroke-opacity="0.85"/>
<circle cx="108.8" cy="507.8" r="1.65" fill="none" stroke="#2a2aff" stroke-width="0.6" stroke-opacity="0.85"/>
<circle cx="111.7" cy="509.1" r="1.65" fill="none" stroke="#2a2aff" stroke-width="0.6" stroke-opacity="0.85"/>
<circle cx="103.4" cy="514.5" r="1.65" fill="none" stroke="#2a2aff" stroke-width="0.6" stroke-opacity="0.85"/>
<circle cx="106.1" cy="514.5" r="1.65" fill="none" stroke="#2a2aff" stroke-width="0.6" stroke-opacity="0.85"/>
<circle cx="110.0" cy="515.5" r="1.65" fill="none" stroke="#2a2aff" stroke-width="0.6" stroke-opacity="0.85"/>
<circle cx="106.3" cy="505.0" r="1.65" fill="none" stroke="#2a2aff" stroke-width="0.6" stroke-opacity="0.85"/>
<circle cx="107.0" cy="498.1" r="1.65" fill="none" stroke="#2a2aff" stroke-width="0.6" stroke-opacity="0.85"/>
<path d="M106.6 496.0V500.5M106.6 511.1V520.6" stroke="#2a2aff" stroke-width="0.6" fill="none" stroke-dasharray="1.6 1.1"/>
<path d="M103.2 496.0h6.8M103.2 520.6h6.8" stroke="#2a2aff" stroke-width="0.65" fill="none"/>
<circle cx="106.6" cy="496.0" r="1.6" fill="none" stroke="#2a2aff" stroke-width="0.55"/>
<circle cx="106.6" cy="520.6" r="1.6" fill="none" stroke="#2a2aff" stroke-width="0.55"/>
<rect x="98.6" y="500.5" width="16.0" height="10.6" fill="none" stroke="#2a2aff" stroke-width="0.65" stroke-opacity="0.9"/>
<line x1="98.6" y1="507.4" x2="114.6" y2="507.4" stroke="#2a2aff" stroke-width="1.9"/>
<circle cx="118.7" cy="507.4" r="1.65" fill="none" stroke="#ff10f0" stroke-width="0.6" stroke-opacity="0.85"/>
<circle cx="121.5" cy="508.3" r="1.65" fill="none" stroke="#ff10f0" stroke-width="0.6" stroke-opacity="0.85"/>
<circle cx="125.8" cy="509.4" r="1.65" fill="none" stroke="#ff10f0" stroke-width="0.6" stroke-opacity="0.85"/>
<circle cx="128.7" cy="507.9" r="1.65" fill="none" stroke="#ff10f0" stroke-width="0.6" stroke-opacity="0.85"/>
<circle cx="132.2" cy="508.4" r="1.65" fill="none" stroke="#ff10f0" stroke-width="0.6" stroke-opacity="0.85"/>
<circle cx="120.5" cy="510.8" r="1.65" fill="none" stroke="#ff10f0" stroke-width="0.6" stroke-opacity="0.85"/>
<circle cx="123.9" cy="512.0" r="1.65" fill="none" stroke="#ff10f0" stroke-width="0.6" stroke-opacity="0.85"/>
<circle cx="127.4" cy="512.1" r="1.65" fill="none" stroke="#ff10f0" stroke-width="0.6" stroke-opacity="0.85"/>
<circle cx="130.7" cy="511.1" r="1.65" fill="none" stroke="#ff10f0" stroke-width="0.6" stroke-opacity="0.85"/>
<circle cx="117.1" cy="505.0" r="1.65" fill="none" stroke="#ff10f0" stroke-width="0.6" stroke-opacity="0.85"/>
<circle cx="120.2" cy="504.4" r="1.65" fill="none" stroke="#ff10f0" stroke-width="0.6" stroke-opacity="0.85"/>
<circle cx="122.3" cy="505.9" r="1.65" fill="none" stroke="#ff10f0" stroke-width="0.6" stroke-opacity="0.85"/>
<circle cx="125.0" cy="504.3" r="1.65" fill="none" stroke="#ff10f0" stroke-width="0.6" stroke-opacity="0.85"/>
<circle cx="127.5" cy="505.4" r="1.65" fill="none" stroke="#ff10f0" stroke-width="0.6" stroke-opacity="0.85"/>
<circle cx="130.5" cy="506.4" r="1.65" fill="none" stroke="#ff10f0" stroke-width="0.6" stroke-opacity="0.85"/>
<circle cx="133.7" cy="506.4" r="1.65" fill="none" stroke="#ff10f0" stroke-width="0.6" stroke-opacity="0.85"/>
<circle cx="119.8" cy="513.7" r="1.65" fill="none" stroke="#ff10f0" stroke-width="0.6" stroke-opacity="0.85"/>
<circle cx="123.1" cy="514.6" r="1.65" fill="none" stroke="#ff10f0" stroke-width="0.6" stroke-opacity="0.85"/>
<circle cx="127.3" cy="514.5" r="1.65" fill="none" stroke="#ff10f0" stroke-width="0.6" stroke-opacity="0.85"/>
<circle cx="130.3" cy="514.4" r="1.65" fill="none" stroke="#ff10f0" stroke-width="0.6" stroke-opacity="0.85"/>
<circle cx="125.3" cy="525.6" r="1.65" fill="none" stroke="#ff10f0" stroke-width="0.6" stroke-opacity="0.85"/>
<path d="M125.3 498.2V503.3M125.3 509.3V517.0" stroke="#ff10f0" stroke-width="0.6" fill="none" stroke-dasharray="1.6 1.1"/>
<path d="M121.9 498.2h6.8M121.9 517.0h6.8" stroke="#ff10f0" stroke-width="0.65" fill="none"/>
<circle cx="125.3" cy="498.2" r="1.6" fill="none" stroke="#ff10f0" stroke-width="0.55"/>
<circle cx="125.3" cy="517.0" r="1.6" fill="none" stroke="#ff10f0" stroke-width="0.55"/>
<rect x="116.6" y="503.3" width="17.4" height="6.0" fill="none" stroke="#ff10f0" stroke-width="0.65" stroke-opacity="0.9"/>
<line x1="116.6" y1="505.8" x2="134.0" y2="505.8" stroke="#ff10f0" stroke-width="1.9"/>
<circle cx="140.8" cy="501.8" r="1.65" fill="none" stroke="#2a2aff" stroke-width="0.6" stroke-opacity="0.85"/>
<circle cx="144.1" cy="503.3" r="1.65" fill="none" stroke="#2a2aff" stroke-width="0.6" stroke-opacity="0.85"/>
<circle cx="147.8" cy="501.6" r="1.65" fill="none" stroke="#2a2aff" stroke-width="0.6" stroke-opacity="0.85"/>
<circle cx="151.6" cy="502.5" r="1.65" fill="none" stroke="#2a2aff" stroke-width="0.6" stroke-opacity="0.85"/>
<circle cx="144.7" cy="498.2" r="1.65" fill="none" stroke="#2a2aff" stroke-width="0.6" stroke-opacity="0.85"/>
<circle cx="147.7" cy="499.8" r="1.65" fill="none" stroke="#2a2aff" stroke-width="0.6" stroke-opacity="0.85"/>
<circle cx="142.8" cy="509.3" r="1.65" fill="none" stroke="#2a2aff" stroke-width="0.6" stroke-opacity="0.85"/>
<circle cx="145.5" cy="507.9" r="1.65" fill="none" stroke="#2a2aff" stroke-width="0.6" stroke-opacity="0.85"/>
<circle cx="149.1" cy="507.7" r="1.65" fill="none" stroke="#2a2aff" stroke-width="0.6" stroke-opacity="0.85"/>
<circle cx="143.0" cy="505.5" r="1.65" fill="none" stroke="#2a2aff" stroke-width="0.6" stroke-opacity="0.85"/>
<circle cx="146.4" cy="505.0" r="1.65" fill="none" stroke="#2a2aff" stroke-width="0.6" stroke-opacity="0.85"/>
<circle cx="149.9" cy="505.2" r="1.65" fill="none" stroke="#2a2aff" stroke-width="0.6" stroke-opacity="0.85"/>
<circle cx="145.8" cy="512.1" r="1.65" fill="none" stroke="#2a2aff" stroke-width="0.6" stroke-opacity="0.85"/>
<circle cx="146.4" cy="513.7" r="1.65" fill="none" stroke="#2a2aff" stroke-width="0.6" stroke-opacity="0.85"/>
<circle cx="146.1" cy="518.0" r="1.65" fill="none" stroke="#2a2aff" stroke-width="0.6" stroke-opacity="0.85"/>
<circle cx="145.7" cy="523.6" r="1.65" fill="none" stroke="#2a2aff" stroke-width="0.6" stroke-opacity="0.85"/>
<path d="M146.0 497.1V504.8M146.0 513.6V525.1" stroke="#2a2aff" stroke-width="0.6" fill="none" stroke-dasharray="1.6 1.1"/>
<path d="M142.6 497.1h6.8M142.6 525.1h6.8" stroke="#2a2aff" stroke-width="0.65" fill="none"/>
<circle cx="146.0" cy="497.1" r="1.6" fill="none" stroke="#2a2aff" stroke-width="0.55"/>
<circle cx="146.0" cy="525.1" r="1.6" fill="none" stroke="#2a2aff" stroke-width="0.55"/>
<rect x="137.6" y="504.8" width="16.8" height="8.8" fill="none" stroke="#2a2aff" stroke-width="0.65" stroke-opacity="0.9"/>
<line x1="137.6" y1="506.5" x2="154.4" y2="506.5" stroke="#2a2aff" stroke-width="1.9"/>
<circle cx="157.8" cy="544.7" r="1.65" fill="none" stroke="#ff10f0" stroke-width="0.6" stroke-opacity="0.85"/>
<circle cx="160.8" cy="546.0" r="1.65" fill="none" stroke="#ff10f0" stroke-width="0.6" stroke-opacity="0.85"/>
<circle cx="164.6" cy="545.1" r="1.65" fill="none" stroke="#ff10f0" stroke-width="0.6" stroke-opacity="0.85"/>
<circle cx="168.0" cy="546.6" r="1.65" fill="none" stroke="#ff10f0" stroke-width="0.6" stroke-opacity="0.85"/>
<circle cx="171.5" cy="545.7" r="1.65" fill="none" stroke="#ff10f0" stroke-width="0.6" stroke-opacity="0.85"/>
<circle cx="161.0" cy="542.3" r="1.65" fill="none" stroke="#ff10f0" stroke-width="0.6" stroke-opacity="0.85"/>
<circle cx="165.0" cy="543.6" r="1.65" fill="none" stroke="#ff10f0" stroke-width="0.6" stroke-opacity="0.85"/>
<circle cx="168.0" cy="541.8" r="1.65" fill="none" stroke="#ff10f0" stroke-width="0.6" stroke-opacity="0.85"/>
<circle cx="164.9" cy="551.1" r="1.65" fill="none" stroke="#ff10f0" stroke-width="0.6" stroke-opacity="0.85"/>
<circle cx="157.2" cy="540.3" r="1.65" fill="none" stroke="#ff10f0" stroke-width="0.6" stroke-opacity="0.85"/>
<circle cx="161.1" cy="540.1" r="1.65" fill="none" stroke="#ff10f0" stroke-width="0.6" stroke-opacity="0.85"/>
<circle cx="164.6" cy="540.2" r="1.65" fill="none" stroke="#ff10f0" stroke-width="0.6" stroke-opacity="0.85"/>
<circle cx="168.1" cy="538.7" r="1.65" fill="none" stroke="#ff10f0" stroke-width="0.6" stroke-opacity="0.85"/>
<circle cx="171.2" cy="539.5" r="1.65" fill="none" stroke="#ff10f0" stroke-width="0.6" stroke-opacity="0.85"/>
<circle cx="164.8" cy="549.6" r="1.65" fill="none" stroke="#ff10f0" stroke-width="0.6" stroke-opacity="0.85"/>
<circle cx="164.2" cy="536.6" r="1.65" fill="none" stroke="#ff10f0" stroke-width="0.6" stroke-opacity="0.85"/>
<path d="M164.6 533.4V534.5M164.6 547.7V558.1" stroke="#ff10f0" stroke-width="0.6" fill="none" stroke-dasharray="1.6 1.1"/>
<path d="M161.2 533.4h6.8M161.2 558.1h6.8" stroke="#ff10f0" stroke-width="0.65" fill="none"/>
<circle cx="164.6" cy="533.4" r="1.6" fill="none" stroke="#ff10f0" stroke-width="0.55"/>
<circle cx="164.6" cy="558.1" r="1.6" fill="none" stroke="#ff10f0" stroke-width="0.55"/>
<rect x="156.6" y="534.5" width="16.1" height="13.2" fill="none" stroke="#ff10f0" stroke-width="0.65" stroke-opacity="0.9"/>
<line x1="156.6" y1="539.0" x2="172.7" y2="539.0" stroke="#ff10f0" stroke-width="1.9"/>
<circle cx="179.7" cy="517.0" r="1.65" fill="none" stroke="#2a2aff" stroke-width="0.6" stroke-opacity="0.85"/>
<circle cx="181.4" cy="517.1" r="1.65" fill="none" stroke="#2a2aff" stroke-width="0.6" stroke-opacity="0.85"/>
<circle cx="182.7" cy="518.5" r="1.65" fill="none" stroke="#2a2aff" stroke-width="0.6" stroke-opacity="0.85"/>
<circle cx="184.9" cy="517.0" r="1.65" fill="none" stroke="#2a2aff" stroke-width="0.6" stroke-opacity="0.85"/>
<circle cx="186.0" cy="517.5" r="1.65" fill="none" stroke="#2a2aff" stroke-width="0.6" stroke-opacity="0.85"/>
<circle cx="188.0" cy="517.4" r="1.65" fill="none" stroke="#2a2aff" stroke-width="0.6" stroke-opacity="0.85"/>
<circle cx="189.3" cy="517.1" r="1.65" fill="none" stroke="#2a2aff" stroke-width="0.6" stroke-opacity="0.85"/>
<circle cx="191.6" cy="518.6" r="1.65" fill="none" stroke="#2a2aff" stroke-width="0.6" stroke-opacity="0.85"/>
<circle cx="181.4" cy="505.4" r="1.65" fill="none" stroke="#2a2aff" stroke-width="0.6" stroke-opacity="0.85"/>
<circle cx="185.7" cy="504.3" r="1.65" fill="none" stroke="#2a2aff" stroke-width="0.6" stroke-opacity="0.85"/>
<circle cx="189.2" cy="504.5" r="1.65" fill="none" stroke="#2a2aff" stroke-width="0.6" stroke-opacity="0.85"/>
<circle cx="183.7" cy="511.6" r="1.65" fill="none" stroke="#2a2aff" stroke-width="0.6" stroke-opacity="0.85"/>
<circle cx="187.3" cy="511.1" r="1.65" fill="none" stroke="#2a2aff" stroke-width="0.6" stroke-opacity="0.85"/>
<circle cx="183.6" cy="521.0" r="1.65" fill="none" stroke="#2a2aff" stroke-width="0.6" stroke-opacity="0.85"/>
<circle cx="187.1" cy="521.1" r="1.65" fill="none" stroke="#2a2aff" stroke-width="0.6" stroke-opacity="0.85"/>
<circle cx="185.3" cy="514.5" r="1.65" fill="none" stroke="#2a2aff" stroke-width="0.6" stroke-opacity="0.85"/>
<circle cx="183.2" cy="508.7" r="1.65" fill="none" stroke="#2a2aff" stroke-width="0.6" stroke-opacity="0.85"/>
<circle cx="187.1" cy="507.8" r="1.65" fill="none" stroke="#2a2aff" stroke-width="0.6" stroke-opacity="0.85"/>
<path d="M185.4 498.8V507.4M185.4 516.5V524.8" stroke="#2a2aff" stroke-width="0.6" fill="none" stroke-dasharray="1.6 1.1"/>
<path d="M182.0 498.8h6.8M182.0 524.8h6.8" stroke="#2a2aff" stroke-width="0.65" fill="none"/>
<circle cx="185.4" cy="498.8" r="1.6" fill="none" stroke="#2a2aff" stroke-width="0.55"/>
<circle cx="185.4" cy="524.8" r="1.6" fill="none" stroke="#2a2aff" stroke-width="0.55"/>
<rect x="177.2" y="507.4" width="16.4" height="9.1" fill="none" stroke="#2a2aff" stroke-width="0.65" stroke-opacity="0.9"/>
<line x1="177.2" y1="513.0" x2="193.6" y2="513.0" stroke="#2a2aff" stroke-width="1.9"/>
<circle cx="198.3" cy="554.1" r="1.65" fill="none" stroke="#ff10f0" stroke-width="0.6" stroke-opacity="0.85"/>
<circle cx="200.8" cy="556.0" r="1.65" fill="none" stroke="#ff10f0" stroke-width="0.6" stroke-opacity="0.85"/>
<circle cx="203.2" cy="555.6" r="1.65" fill="none" stroke="#ff10f0" stroke-width="0.6" stroke-opacity="0.85"/>
<circle cx="205.3" cy="556.0" r="1.65" fill="none" stroke="#ff10f0" stroke-width="0.6" stroke-opacity="0.85"/>
<circle cx="208.2" cy="555.9" r="1.65" fill="none" stroke="#ff10f0" stroke-width="0.6" stroke-opacity="0.85"/>
<circle cx="211.2" cy="554.2" r="1.65" fill="none" stroke="#ff10f0" stroke-width="0.6" stroke-opacity="0.85"/>
<circle cx="202.8" cy="549.6" r="1.65" fill="none" stroke="#ff10f0" stroke-width="0.6" stroke-opacity="0.85"/>
<circle cx="205.6" cy="548.4" r="1.65" fill="none" stroke="#ff10f0" stroke-width="0.6" stroke-opacity="0.85"/>
<circle cx="201.1" cy="560.3" r="1.65" fill="none" stroke="#ff10f0" stroke-width="0.6" stroke-opacity="0.85"/>
<circle cx="204.7" cy="560.6" r="1.65" fill="none" stroke="#ff10f0" stroke-width="0.6" stroke-opacity="0.85"/>
<circle cx="208.1" cy="560.3" r="1.65" fill="none" stroke="#ff10f0" stroke-width="0.6" stroke-opacity="0.85"/>
<circle cx="204.3" cy="558.9" r="1.65" fill="none" stroke="#ff10f0" stroke-width="0.6" stroke-opacity="0.85"/>
<circle cx="197.5" cy="551.3" r="1.65" fill="none" stroke="#ff10f0" stroke-width="0.6" stroke-opacity="0.85"/>
<circle cx="201.1" cy="551.4" r="1.65" fill="none" stroke="#ff10f0" stroke-width="0.6" stroke-opacity="0.85"/>
<circle cx="203.8" cy="551.1" r="1.65" fill="none" stroke="#ff10f0" stroke-width="0.6" stroke-opacity="0.85"/>
<circle cx="207.2" cy="552.8" r="1.65" fill="none" stroke="#ff10f0" stroke-width="0.6" stroke-opacity="0.85"/>
<circle cx="211.0" cy="552.7" r="1.65" fill="none" stroke="#ff10f0" stroke-width="0.6" stroke-opacity="0.85"/>
<circle cx="204.0" cy="546.2" r="1.65" fill="none" stroke="#ff10f0" stroke-width="0.6" stroke-opacity="0.85"/>
<path d="M204.3 539.4V551.7M204.3 561.6V567.4" stroke="#ff10f0" stroke-width="0.6" fill="none" stroke-dasharray="1.6 1.1"/>
<path d="M200.9 539.4h6.8M200.9 567.4h6.8" stroke="#ff10f0" stroke-width="0.65" fill="none"/>
<circle cx="204.3" cy="539.4" r="1.6" fill="none" stroke="#ff10f0" stroke-width="0.55"/>
<circle cx="204.3" cy="567.4" r="1.6" fill="none" stroke="#ff10f0" stroke-width="0.55"/>
<rect x="195.9" y="551.7" width="16.8" height="9.9" fill="none" stroke="#ff10f0" stroke-width="0.65" stroke-opacity="0.9"/>
<line x1="195.9" y1="553.9" x2="212.7" y2="553.9" stroke="#ff10f0" stroke-width="1.9"/>
<circle cx="221.7" cy="520.3" r="1.65" fill="none" stroke="#2a2aff" stroke-width="0.6" stroke-opacity="0.85"/>
<circle cx="225.0" cy="521.9" r="1.65" fill="none" stroke="#2a2aff" stroke-width="0.6" stroke-opacity="0.85"/>
<circle cx="228.5" cy="521.2" r="1.65" fill="none" stroke="#2a2aff" stroke-width="0.6" stroke-opacity="0.85"/>
<circle cx="217.7" cy="510.4" r="1.65" fill="none" stroke="#2a2aff" stroke-width="0.6" stroke-opacity="0.85"/>
<circle cx="220.2" cy="510.7" r="1.65" fill="none" stroke="#2a2aff" stroke-width="0.6" stroke-opacity="0.85"/>
<circle cx="223.6" cy="511.4" r="1.65" fill="none" stroke="#2a2aff" stroke-width="0.6" stroke-opacity="0.85"/>
<circle cx="226.3" cy="512.4" r="1.65" fill="none" stroke="#2a2aff" stroke-width="0.6" stroke-opacity="0.85"/>
<circle cx="228.7" cy="510.9" r="1.65" fill="none" stroke="#2a2aff" stroke-width="0.6" stroke-opacity="0.85"/>
<circle cx="232.1" cy="510.4" r="1.65" fill="none" stroke="#2a2aff" stroke-width="0.6" stroke-opacity="0.85"/>
<circle cx="220.9" cy="508.1" r="1.65" fill="none" stroke="#2a2aff" stroke-width="0.6" stroke-opacity="0.85"/>
<circle cx="224.5" cy="508.1" r="1.65" fill="none" stroke="#2a2aff" stroke-width="0.6" stroke-opacity="0.85"/>
<circle cx="228.1" cy="508.6" r="1.65" fill="none" stroke="#2a2aff" stroke-width="0.6" stroke-opacity="0.85"/>
<circle cx="223.2" cy="517.0" r="1.65" fill="none" stroke="#2a2aff" stroke-width="0.6" stroke-opacity="0.85"/>
<circle cx="226.8" cy="517.6" r="1.65" fill="none" stroke="#2a2aff" stroke-width="0.6" stroke-opacity="0.85"/>
<circle cx="222.8" cy="524.9" r="1.65" fill="none" stroke="#2a2aff" stroke-width="0.6" stroke-opacity="0.85"/>
<circle cx="226.4" cy="523.1" r="1.65" fill="none" stroke="#2a2aff" stroke-width="0.6" stroke-opacity="0.85"/>
<circle cx="222.7" cy="514.9" r="1.65" fill="none" stroke="#2a2aff" stroke-width="0.6" stroke-opacity="0.85"/>
<circle cx="227.0" cy="515.2" r="1.65" fill="none" stroke="#2a2aff" stroke-width="0.6" stroke-opacity="0.85"/>
<path d="M224.9 504.7V510.3M224.9 519.3V526.6" stroke="#2a2aff" stroke-width="0.6" fill="none" stroke-dasharray="1.6 1.1"/>
<path d="M221.5 504.7h6.8M221.5 526.6h6.8" stroke="#2a2aff" stroke-width="0.65" fill="none"/>
<circle cx="224.9" cy="504.7" r="1.6" fill="none" stroke="#2a2aff" stroke-width="0.55"/>
<circle cx="224.9" cy="526.6" r="1.6" fill="none" stroke="#2a2aff" stroke-width="0.55"/>
<rect x="217.0" y="510.3" width="15.8" height="9.0" fill="none" stroke="#2a2aff" stroke-width="0.65" stroke-opacity="0.9"/>
<line x1="217.0" y1="514.5" x2="232.8" y2="514.5" stroke="#2a2aff" stroke-width="1.9"/>
<circle cx="240.4" cy="567.4" r="1.65" fill="none" stroke="#ff10f0" stroke-width="0.6" stroke-opacity="0.85"/>
<circle cx="243.4" cy="569.0" r="1.65" fill="none" stroke="#ff10f0" stroke-width="0.6" stroke-opacity="0.85"/>
<circle cx="247.1" cy="568.3" r="1.65" fill="none" stroke="#ff10f0" stroke-width="0.6" stroke-opacity="0.85"/>
<circle cx="243.4" cy="574.4" r="1.65" fill="none" stroke="#ff10f0" stroke-width="0.6" stroke-opacity="0.85"/>
<circle cx="247.1" cy="574.6" r="1.65" fill="none" stroke="#ff10f0" stroke-width="0.6" stroke-opacity="0.85"/>
<circle cx="234.8" cy="581.0" r="1.65" fill="none" stroke="#ff10f0" stroke-width="0.6" stroke-opacity="0.85"/>
<circle cx="238.4" cy="581.0" r="1.65" fill="none" stroke="#ff10f0" stroke-width="0.6" stroke-opacity="0.85"/>
<circle cx="241.8" cy="580.6" r="1.65" fill="none" stroke="#ff10f0" stroke-width="0.6" stroke-opacity="0.85"/>
<circle cx="245.2" cy="581.0" r="1.65" fill="none" stroke="#ff10f0" stroke-width="0.6" stroke-opacity="0.85"/>
<circle cx="248.4" cy="580.8" r="1.65" fill="none" stroke="#ff10f0" stroke-width="0.6" stroke-opacity="0.85"/>
<circle cx="250.8" cy="580.8" r="1.65" fill="none" stroke="#ff10f0" stroke-width="0.6" stroke-opacity="0.85"/>
<circle cx="243.4" cy="584.6" r="1.65" fill="none" stroke="#ff10f0" stroke-width="0.6" stroke-opacity="0.85"/>
<circle cx="246.9" cy="584.6" r="1.65" fill="none" stroke="#ff10f0" stroke-width="0.6" stroke-opacity="0.85"/>
<path d="M243.7 567.2V572.3M243.7 581.6V590.7" stroke="#ff10f0" stroke-width="0.6" fill="none" stroke-dasharray="1.6 1.1"/>
<path d="M240.3 567.2h6.8M240.3 590.7h6.8" stroke="#ff10f0" stroke-width="0.65" fill="none"/>
<circle cx="243.7" cy="567.2" r="1.6" fill="none" stroke="#ff10f0" stroke-width="0.55"/>
<circle cx="243.7" cy="590.7" r="1.6" fill="none" stroke="#ff10f0" stroke-width="0.55"/>
<rect x="235.6" y="572.3" width="16.2" height="9.3" fill="none" stroke="#ff10f0" stroke-width="0.65" stroke-opacity="0.9"/>
<line x1="235.6" y1="580.8" x2="251.8" y2="580.8" stroke="#ff10f0" stroke-width="1.9"/>
<circle cx="262.5" cy="511.6" r="1.65" fill="none" stroke="#2a2aff" stroke-width="0.6" stroke-opacity="0.85"/>
<circle cx="266.9" cy="510.7" r="1.65" fill="none" stroke="#2a2aff" stroke-width="0.6" stroke-opacity="0.85"/>
<circle cx="258.4" cy="508.6" r="1.65" fill="none" stroke="#2a2aff" stroke-width="0.6" stroke-opacity="0.85"/>
<circle cx="261.1" cy="508.7" r="1.65" fill="none" stroke="#2a2aff" stroke-width="0.6" stroke-opacity="0.85"/>
<circle cx="263.8" cy="507.7" r="1.65" fill="none" stroke="#2a2aff" stroke-width="0.6" stroke-opacity="0.85"/>
<circle cx="265.7" cy="508.0" r="1.65" fill="none" stroke="#2a2aff" stroke-width="0.6" stroke-opacity="0.85"/>
<circle cx="267.8" cy="509.3" r="1.65" fill="none" stroke="#2a2aff" stroke-width="0.6" stroke-opacity="0.85"/>
<circle cx="271.0" cy="508.9" r="1.65" fill="none" stroke="#2a2aff" stroke-width="0.6" stroke-opacity="0.85"/>
<circle cx="260.7" cy="518.5" r="1.65" fill="none" stroke="#2a2aff" stroke-width="0.6" stroke-opacity="0.85"/>
<circle cx="264.9" cy="517.6" r="1.65" fill="none" stroke="#2a2aff" stroke-width="0.6" stroke-opacity="0.85"/>
<circle cx="268.4" cy="517.6" r="1.65" fill="none" stroke="#2a2aff" stroke-width="0.6" stroke-opacity="0.85"/>
<circle cx="264.4" cy="526.1" r="1.65" fill="none" stroke="#2a2aff" stroke-width="0.6" stroke-opacity="0.85"/>
<circle cx="262.7" cy="513.6" r="1.65" fill="none" stroke="#2a2aff" stroke-width="0.6" stroke-opacity="0.85"/>
<circle cx="266.3" cy="515.1" r="1.65" fill="none" stroke="#2a2aff" stroke-width="0.6" stroke-opacity="0.85"/>
<circle cx="264.9" cy="524.7" r="1.65" fill="none" stroke="#2a2aff" stroke-width="0.6" stroke-opacity="0.85"/>
<circle cx="264.9" cy="520.3" r="1.65" fill="none" stroke="#2a2aff" stroke-width="0.6" stroke-opacity="0.85"/>
<path d="M264.7 499.4V509.6M264.7 521.0V527.3" stroke="#2a2aff" stroke-width="0.6" fill="none" stroke-dasharray="1.6 1.1"/>
<path d="M261.3 499.4h6.8M261.3 527.3h6.8" stroke="#2a2aff" stroke-width="0.65" fill="none"/>
<circle cx="264.7" cy="499.4" r="1.6" fill="none" stroke="#2a2aff" stroke-width="0.55"/>
<circle cx="264.7" cy="527.3" r="1.6" fill="none" stroke="#2a2aff" stroke-width="0.55"/>
<rect x="256.6" y="509.6" width="16.2" height="11.4" fill="none" stroke="#2a2aff" stroke-width="0.65" stroke-opacity="0.9"/>
<line x1="256.6" y1="515.2" x2="272.8" y2="515.2" stroke="#2a2aff" stroke-width="1.9"/>
<circle cx="271.6" cy="560.0" r="1.65" fill="none" stroke="#ff10f0" stroke-width="0.6" stroke-opacity="0.85"/>
<circle cx="275.5" cy="560.4" r="1.65" fill="none" stroke="#ff10f0" stroke-width="0.6" stroke-opacity="0.85"/>
<circle cx="279.5" cy="560.6" r="1.65" fill="none" stroke="#ff10f0" stroke-width="0.6" stroke-opacity="0.85"/>
<circle cx="283.5" cy="560.8" r="1.65" fill="none" stroke="#ff10f0" stroke-width="0.6" stroke-opacity="0.85"/>
<circle cx="287.5" cy="560.4" r="1.65" fill="none" stroke="#ff10f0" stroke-width="0.6" stroke-opacity="0.85"/>
<circle cx="291.5" cy="559.8" r="1.65" fill="none" stroke="#ff10f0" stroke-width="0.6" stroke-opacity="0.85"/>
<circle cx="282.7" cy="563.1" r="1.65" fill="none" stroke="#ff10f0" stroke-width="0.6" stroke-opacity="0.85"/>
<circle cx="286.3" cy="563.5" r="1.65" fill="none" stroke="#ff10f0" stroke-width="0.6" stroke-opacity="0.85"/>
<circle cx="279.6" cy="564.6" r="1.65" fill="none" stroke="#ff10f0" stroke-width="0.6" stroke-opacity="0.85"/>
<circle cx="280.8" cy="572.3" r="1.65" fill="none" stroke="#ff10f0" stroke-width="0.6" stroke-opacity="0.85"/>
<circle cx="283.9" cy="574.8" r="1.65" fill="none" stroke="#ff10f0" stroke-width="0.6" stroke-opacity="0.85"/>
<circle cx="287.0" cy="575.0" r="1.65" fill="none" stroke="#ff10f0" stroke-width="0.6" stroke-opacity="0.85"/>
<circle cx="282.0" cy="579.7" r="1.65" fill="none" stroke="#ff10f0" stroke-width="0.6" stroke-opacity="0.85"/>
<circle cx="287.0" cy="581.5" r="1.65" fill="none" stroke="#ff10f0" stroke-width="0.6" stroke-opacity="0.85"/>
<circle cx="283.3" cy="583.3" r="1.65" fill="none" stroke="#ff10f0" stroke-width="0.6" stroke-opacity="0.85"/>
<path d="M283.3 559.8V562.1M283.3 577.2V587.4" stroke="#ff10f0" stroke-width="0.6" fill="none" stroke-dasharray="1.6 1.1"/>
<path d="M279.9 559.8h6.8M279.9 587.4h6.8" stroke="#ff10f0" stroke-width="0.65" fill="none"/>
<circle cx="283.3" cy="559.8" r="1.6" fill="none" stroke="#ff10f0" stroke-width="0.55"/>
<circle cx="283.3" cy="587.4" r="1.6" fill="none" stroke="#ff10f0" stroke-width="0.55"/>
<rect x="275.2" y="562.1" width="16.2" height="15.1" fill="none" stroke="#ff10f0" stroke-width="0.65" stroke-opacity="0.9"/>
<line x1="275.2" y1="566.8" x2="291.4" y2="566.8" stroke="#ff10f0" stroke-width="1.9"/>
<text transform="translate(66.69 492.80) scale(1 1.000)" font-size="14.7" text-anchor="middle">a</text>
<text transform="translate(85.43 513.60) scale(1 1.000)" font-size="14.7" text-anchor="middle">b</text>
<text transform="translate(105.89 492.80) scale(1 1.000)" font-size="14.7" text-anchor="middle">a</text>
<text transform="translate(124.59 494.80) scale(1 1.000)" font-size="14.7" text-anchor="middle">a</text>
<text transform="translate(145.39 492.80) scale(1 1.000)" font-size="14.7" text-anchor="middle">a</text>
<text transform="translate(164.58 530.00) scale(1 1.000)" font-size="14.7" text-anchor="middle">c</text>
<text transform="translate(185.19 493.90) scale(1 1.000)" font-size="14.7" text-anchor="middle">a</text>
<text transform="translate(204.57 533.30) scale(1 1.000)" font-size="14.7" text-anchor="middle">d</text>
<text transform="translate(223.99 499.30) scale(1 1.000)" font-size="14.7" text-anchor="middle">a</text>
<text transform="translate(243.59 562.40) scale(1 1.000)" font-size="14.7" text-anchor="middle">f</text>
<text transform="translate(263.99 495.60) scale(1 1.000)" font-size="14.7" text-anchor="middle">a</text>
<text transform="translate(283.81 555.80) scale(1 1.000)" font-size="14.7" text-anchor="middle">e</text>
<text transform="translate(62.24 617.90) scale(1 1.042)" font-size="14.7">WT</text>
<text transform="translate(101.56 617.90) scale(1 1.010)" font-size="14.7" font-style="italic">rlk7</text>
<text transform="translate(145.59 617.50) scale(1 1.042)" font-size="14.7">L4</text>
<text transform="translate(184.49 617.50) scale(1 1.042)" font-size="14.7">L5</text>
<text transform="translate(225.09 617.50) scale(1 1.042)" font-size="14.7">L9</text>
<text transform="translate(263.79 617.50) scale(1 1.042)" font-size="14.7">L16</text>
<line x1="138.70" y1="620.50" x2="210.00" y2="620.50" stroke="#3a3a3a" stroke-width="0.9"/>
<line x1="221.00" y1="620.50" x2="292.40" y2="620.50" stroke="#3a3a3a" stroke-width="0.9"/>
<text transform="translate(155.85 637.70) scale(1 1.042)" font-size="14.7" font-style="italic">RLK7</text>
<text transform="translate(206.95 637.70) scale(1 1.042)" font-size="14.7" font-style="italic">RLK7<tspan font-size="9.7" dy="-5.3" dx="0.9">ECD</tspan><tspan dy="5.3" font-size="1">&#8203;</tspan>-MIK2<tspan font-size="9.7" dy="-5.3">TK</tspan><tspan dy="5.3" font-size="1">&#8203;</tspan></text>
<line x1="139.60" y1="643.30" x2="292.60" y2="643.30" stroke="#3a3a3a" stroke-width="0.9"/>
<text transform="translate(204.26 657.70) scale(1 1.010)" font-size="14.7" font-style="italic">rlk7</text>
<text transform="translate(330.40 11.90) scale(1 1.000)" font-size="17" font-weight="bold" style="fill:#000;stroke:#000;stroke-width:0.4px">d</text>
<text transform="translate(354.48 23.90) scale(1 1.000)" font-size="14.7">&#215;</text>
<text transform="translate(364.28 23.90) scale(1 1.042)" font-size="14.7">10</text>
<text transform="translate(380.11 14.80) scale(1 1.042)" font-size="9.6">6</text>
<rect x="427.6" y="11.3" width="13.6" height="7.7" fill="none" stroke="#2a2aff" stroke-width="0.7"/>
<line x1="427.6" y1="15.15" x2="441.2" y2="15.15" stroke="#2a2aff" stroke-width="1.5"/>
<text transform="translate(445.99 20.50) scale(1 1.042)" font-size="14.7">H<tspan font-size="10.0" dy="2.3">2</tspan><tspan dy="-2.3">O</tspan></text>
<rect x="505.6" y="11.3" width="13.8" height="7.7" fill="none" stroke="#ff10f0" stroke-width="0.7"/>
<line x1="505.6" y1="15.15" x2="519.4" y2="15.15" stroke="#ff10f0" stroke-width="1.5"/>
<text transform="translate(524.79 20.50) scale(1 1.042)" font-size="14.7">PIP1</text>
<line x1="394.20" y1="34.30" x2="394.20" y2="174.90" stroke="#5a5a5a" stroke-width="0.9"/>
<line x1="387.00" y1="34.70" x2="394.20" y2="34.70" stroke="#5a5a5a" stroke-width="0.9"/>
<text transform="translate(379.83 40.00) scale(1 1.042)" font-size="14.7" text-anchor="end">4</text>
<line x1="387.00" y1="69.63" x2="394.20" y2="69.63" stroke="#5a5a5a" stroke-width="0.9"/>
<text transform="translate(380.05 74.93) scale(1 1.042)" font-size="14.7" text-anchor="end">3</text>
<line x1="387.00" y1="104.56" x2="394.20" y2="104.56" stroke="#5a5a5a" stroke-width="0.9"/>
<text transform="translate(380.14 109.86) scale(1 1.042)" font-size="14.7" text-anchor="end">2</text>
<line x1="387.00" y1="139.49" x2="394.20" y2="139.49" stroke="#5a5a5a" stroke-width="0.9"/>
<text transform="translate(380.12 144.79) scale(1 1.042)" font-size="14.7" text-anchor="end">1</text>
<line x1="387.00" y1="174.42" x2="394.20" y2="174.42" stroke="#5a5a5a" stroke-width="0.9"/>
<text transform="translate(379.97 179.72) scale(1 1.042)" font-size="14.7" text-anchor="end">0</text>
<text transform="translate(361.6 106.5) rotate(-90) scale(1 1.03)" font-size="15.35" text-anchor="middle">Total ROS (RLU)</text>
<circle cx="409.9" cy="171.0" r="2.9" fill="none" stroke="#2a2aff" stroke-width="0.55" stroke-opacity="0.8"/>
<circle cx="415.8" cy="171.0" r="2.9" fill="none" stroke="#2a2aff" stroke-width="0.55" stroke-opacity="0.8"/>
<circle cx="422.4" cy="171.0" r="2.9" fill="none" stroke="#2a2aff" stroke-width="0.55" stroke-opacity="0.8"/>
<line x1="405.3" y1="170.9" x2="426.4" y2="170.9" stroke="#2a2aff" stroke-width="2.6"/>
<circle cx="437.7" cy="164.5" r="2.9" fill="none" stroke="#ff10f0" stroke-width="0.55" stroke-opacity="0.8"/>
<circle cx="443.0" cy="166.0" r="2.9" fill="none" stroke="#ff10f0" stroke-width="0.55" stroke-opacity="0.8"/>
<circle cx="448.6" cy="166.0" r="2.9" fill="none" stroke="#ff10f0" stroke-width="0.55" stroke-opacity="0.8"/>
<circle cx="455.2" cy="162.8" r="2.9" fill="none" stroke="#ff10f0" stroke-width="0.55" stroke-opacity="0.8"/>
<line x1="431.9" y1="164.3" x2="453.5" y2="164.3" stroke="#ff10f0" stroke-width="3.3"/>
<circle cx="462.8" cy="171.0" r="2.9" fill="none" stroke="#2a2aff" stroke-width="0.55" stroke-opacity="0.8"/>
<circle cx="469.4" cy="171.0" r="2.9" fill="none" stroke="#2a2aff" stroke-width="0.55" stroke-opacity="0.8"/>
<circle cx="475.5" cy="171.0" r="2.9" fill="none" stroke="#2a2aff" stroke-width="0.55" stroke-opacity="0.8"/>
<line x1="458.7" y1="170.9" x2="480.3" y2="170.9" stroke="#2a2aff" stroke-width="2.6"/>
<circle cx="490.2" cy="164.5" r="2.9" fill="none" stroke="#ff10f0" stroke-width="0.55" stroke-opacity="0.8"/>
<circle cx="496.0" cy="166.5" r="2.9" fill="none" stroke="#ff10f0" stroke-width="0.55" stroke-opacity="0.8"/>
<circle cx="502.2" cy="166.0" r="2.9" fill="none" stroke="#ff10f0" stroke-width="0.55" stroke-opacity="0.8"/>
<circle cx="507.7" cy="161.2" r="2.9" fill="none" stroke="#ff10f0" stroke-width="0.55" stroke-opacity="0.8"/>
<line x1="485.2" y1="164.2" x2="506.3" y2="164.2" stroke="#ff10f0" stroke-width="3.8"/>
<circle cx="517.5" cy="168.5" r="2.9" fill="none" stroke="#2a2aff" stroke-width="0.55" stroke-opacity="0.8"/>
<circle cx="523.0" cy="170.5" r="2.9" fill="none" stroke="#2a2aff" stroke-width="0.55" stroke-opacity="0.8"/>
<circle cx="528.9" cy="170.5" r="2.9" fill="none" stroke="#2a2aff" stroke-width="0.55" stroke-opacity="0.8"/>
<line x1="511.9" y1="170.0" x2="534.3" y2="170.0" stroke="#2a2aff" stroke-width="2.6"/>
<circle cx="570.6" cy="168.8" r="2.9" fill="none" stroke="#2a2aff" stroke-width="0.55" stroke-opacity="0.8"/>
<circle cx="576.2" cy="170.4" r="2.9" fill="none" stroke="#2a2aff" stroke-width="0.55" stroke-opacity="0.8"/>
<circle cx="582.0" cy="170.4" r="2.9" fill="none" stroke="#2a2aff" stroke-width="0.55" stroke-opacity="0.8"/>
<line x1="565.3" y1="170.0" x2="587.4" y2="170.0" stroke="#2a2aff" stroke-width="2.6"/>
<path d="M549.9 53.4V72.0M549.9 113.5V122.2" stroke="#ff10f0" stroke-width="0.8" fill="none" stroke-dasharray="3.6 2"/>
<path d="M544.5 53.4h10.8M544.5 122.2h10.8" stroke="#ff10f0" stroke-width="0.7" fill="none"/>
<rect x="539.0" y="72.0" width="21.8" height="41.5" fill="none" stroke="#ff10f0" stroke-width="1.1"/>
<line x1="539.0" y1="110.4" x2="560.8" y2="110.4" stroke="#ff10f0" stroke-width="2.6"/>
<circle cx="549.8" cy="53.4" r="2.9" fill="none" stroke="#ff10f0" stroke-width="0.55" stroke-opacity="0.8"/>
<circle cx="549.8" cy="72.4" r="2.9" fill="none" stroke="#ff10f0" stroke-width="0.55" stroke-opacity="0.8"/>
<circle cx="555.6" cy="109.6" r="2.9" fill="none" stroke="#ff10f0" stroke-width="0.55" stroke-opacity="0.8"/>
<circle cx="549.8" cy="113.4" r="2.9" fill="none" stroke="#ff10f0" stroke-width="0.55" stroke-opacity="0.8"/>
<circle cx="549.8" cy="122.2" r="2.9" fill="none" stroke="#ff10f0" stroke-width="0.55" stroke-opacity="0.8"/>
<path d="M603.2 39.2V68.0M603.2 130.5V141.6" stroke="#ff10f0" stroke-width="0.8" fill="none" stroke-dasharray="3.6 2"/>
<path d="M597.9 39.2h10.8M597.9 141.6h10.8" stroke="#ff10f0" stroke-width="0.7" fill="none"/>
<rect x="592.3" y="68.0" width="21.9" height="62.5" fill="none" stroke="#ff10f0" stroke-width="1.1"/>
<line x1="592.3" y1="75.0" x2="614.2" y2="75.0" stroke="#ff10f0" stroke-width="2.6"/>
<circle cx="603.2" cy="39.2" r="2.9" fill="none" stroke="#ff10f0" stroke-width="0.55" stroke-opacity="0.8"/>
<circle cx="603.2" cy="67.6" r="2.9" fill="none" stroke="#ff10f0" stroke-width="0.55" stroke-opacity="0.8"/>
<circle cx="603.2" cy="75.6" r="2.9" fill="none" stroke="#ff10f0" stroke-width="0.55" stroke-opacity="0.8"/>
<circle cx="603.2" cy="130.2" r="2.9" fill="none" stroke="#ff10f0" stroke-width="0.55" stroke-opacity="0.8"/>
<circle cx="603.2" cy="141.6" r="2.9" fill="none" stroke="#ff10f0" stroke-width="0.55" stroke-opacity="0.8"/>
<text transform="translate(416.08 163.70) scale(1 1.000)" font-size="14.7" text-anchor="middle">c</text>
<text transform="translate(443.33 155.80) scale(1 1.000)" font-size="14.7" text-anchor="middle">b</text>
<text transform="translate(468.48 163.70) scale(1 1.000)" font-size="14.7" text-anchor="middle">c</text>
<text transform="translate(496.73 155.80) scale(1 1.000)" font-size="14.7" text-anchor="middle">b</text>
<text transform="translate(522.68 160.20) scale(1 1.000)" font-size="14.7" text-anchor="middle">c</text>
<text transform="translate(576.28 160.20) scale(1 1.000)" font-size="14.7" text-anchor="middle">c</text>
<text transform="translate(549.29 45.40) scale(1 1.000)" font-size="14.7" text-anchor="middle">a</text>
<text transform="translate(602.69 31.00) scale(1 1.000)" font-size="14.7" text-anchor="middle">a</text>
<line x1="415.70" y1="180.30" x2="443.50" y2="180.30" stroke="#3a3a3a" stroke-width="0.9"/>
<line x1="469.10" y1="180.30" x2="496.90" y2="180.30" stroke="#3a3a3a" stroke-width="0.9"/>
<line x1="522.30" y1="180.30" x2="550.40" y2="180.30" stroke="#3a3a3a" stroke-width="0.9"/>
<line x1="575.20" y1="180.30" x2="603.00" y2="180.30" stroke="#3a3a3a" stroke-width="0.9"/>
<text transform="translate(421.19 199.70) scale(1 1.042)" font-size="14.7">L4</text>
<text transform="translate(474.79 199.70) scale(1 1.042)" font-size="14.7">L5</text>
<text transform="translate(528.09 199.70) scale(1 1.042)" font-size="14.7">L9</text>
<text transform="translate(573.99 199.70) scale(1 1.042)" font-size="14.7">L16</text>
<line x1="415.70" y1="204.80" x2="495.70" y2="204.80" stroke="#3a3a3a" stroke-width="0.9"/>
<line x1="522.80" y1="204.80" x2="602.30" y2="204.80" stroke="#3a3a3a" stroke-width="0.9"/>
<text transform="translate(436.35 220.30) scale(1 1.042)" font-size="14.7" font-style="italic">RLK7</text>
<text transform="translate(513.25 220.30) scale(1 1.042)" font-size="14.7" font-style="italic">RLK7<tspan font-size="9.7" dy="-5.3" dx="0.9">ECD</tspan><tspan dy="5.3" font-size="1">&#8203;</tspan>-MIK2<tspan font-size="9.7" dy="-5.3">TK</tspan><tspan dy="5.3" font-size="1">&#8203;</tspan></text>
<line x1="415.70" y1="225.80" x2="596.30" y2="225.80" stroke="#3a3a3a" stroke-width="0.9"/>
<text transform="translate(499.16 239.70) scale(1 1.010)" font-size="14.7" font-style="italic">rlk7</text>
<text transform="translate(330.20 263.20) scale(1 1.000)" font-size="17.5" font-weight="bold" style="fill:#000;stroke:#000;stroke-width:0.4px">e</text>
<rect x="345.25" y="277.10" width="18.93" height="18.90" fill="#6060ff" stroke="#a9a9b2" stroke-width="0.3"/>
<rect x="364.18" y="277.10" width="18.93" height="18.90" fill="#7c7cff" stroke="#a9a9b2" stroke-width="0.3"/>
<rect x="383.11" y="277.10" width="18.93" height="18.90" fill="#f6f6ff" stroke="#a9a9b2" stroke-width="0.3"/>
<rect x="402.04" y="277.10" width="18.93" height="18.90" fill="#ffe8e8" stroke="#a9a9b2" stroke-width="0.3"/>
<rect x="420.97" y="277.10" width="18.93" height="18.90" fill="#ff9a9a" stroke="#a9a9b2" stroke-width="0.3"/>
<rect x="439.90" y="277.10" width="18.93" height="18.90" fill="#ff5252" stroke="#a9a9b2" stroke-width="0.3"/>
<rect x="345.25" y="296.00" width="18.93" height="18.90" fill="#7e7eff" stroke="#a9a9b2" stroke-width="0.3"/>
<rect x="364.18" y="296.00" width="18.93" height="18.90" fill="#fdfdff" stroke="#a9a9b2" stroke-width="0.3"/>
<rect x="383.11" y="296.00" width="18.93" height="18.90" fill="#7070ff" stroke="#a9a9b2" stroke-width="0.3"/>
<rect x="402.04" y="296.00" width="18.93" height="18.90" fill="#d2d2ff" stroke="#a9a9b2" stroke-width="0.3"/>
<rect x="420.97" y="296.00" width="18.93" height="18.90" fill="#ff6e6e" stroke="#a9a9b2" stroke-width="0.3"/>
<rect x="439.90" y="296.00" width="18.93" height="18.90" fill="#ff6464" stroke="#a9a9b2" stroke-width="0.3"/>
<rect x="345.25" y="314.90" width="18.93" height="18.90" fill="#b4b4ff" stroke="#a9a9b2" stroke-width="0.3"/>
<rect x="364.18" y="314.90" width="18.93" height="18.90" fill="#ffaaaa" stroke="#a9a9b2" stroke-width="0.3"/>
<rect x="383.11" y="314.90" width="18.93" height="18.90" fill="#5858ff" stroke="#a9a9b2" stroke-width="0.3"/>
<rect x="402.04" y="314.90" width="18.93" height="18.90" fill="#aaaaff" stroke="#a9a9b2" stroke-width="0.3"/>
<rect x="420.97" y="314.90" width="18.93" height="18.90" fill="#ff5050" stroke="#a9a9b2" stroke-width="0.3"/>
<rect x="439.90" y="314.90" width="18.93" height="18.90" fill="#ffd2d2" stroke="#a9a9b2" stroke-width="0.3"/>
<rect x="345.25" y="333.80" width="18.93" height="18.90" fill="#b4b4ff" stroke="#a9a9b2" stroke-width="0.3"/>
<rect x="364.18" y="333.80" width="18.93" height="18.90" fill="#a5a5ff" stroke="#a9a9b2" stroke-width="0.3"/>
<rect x="383.11" y="333.80" width="18.93" height="18.90" fill="#8484ff" stroke="#a9a9b2" stroke-width="0.3"/>
<rect x="402.04" y="333.80" width="18.93" height="18.90" fill="#fdfdff" stroke="#a9a9b2" stroke-width="0.3"/>
<rect x="420.97" y="333.80" width="18.93" height="18.90" fill="#ffdcdc" stroke="#a9a9b2" stroke-width="0.3"/>
<rect x="439.90" y="333.80" width="18.93" height="18.90" fill="#ff1818" stroke="#a9a9b2" stroke-width="0.3"/>
<rect x="345.25" y="352.70" width="18.93" height="18.90" fill="#d7d7ff" stroke="#a9a9b2" stroke-width="0.3"/>
<rect x="364.18" y="352.70" width="18.93" height="18.90" fill="#fff0f0" stroke="#a9a9b2" stroke-width="0.3"/>
<rect x="383.11" y="352.70" width="18.93" height="18.90" fill="#bebeff" stroke="#a9a9b2" stroke-width="0.3"/>
<rect x="402.04" y="352.70" width="18.93" height="18.90" fill="#9090ff" stroke="#a9a9b2" stroke-width="0.3"/>
<rect x="420.97" y="352.70" width="18.93" height="18.90" fill="#c8c8ff" stroke="#a9a9b2" stroke-width="0.3"/>
<rect x="439.90" y="352.70" width="18.93" height="18.90" fill="#ff0a0a" stroke="#a9a9b2" stroke-width="0.3"/>
<rect x="345.25" y="371.60" width="18.93" height="18.90" fill="#ffbebe" stroke="#a9a9b2" stroke-width="0.3"/>
<rect x="364.18" y="371.60" width="18.93" height="18.90" fill="#ffbebe" stroke="#a9a9b2" stroke-width="0.3"/>
<rect x="383.11" y="371.60" width="18.93" height="18.90" fill="#9696ff" stroke="#a9a9b2" stroke-width="0.3"/>
<rect x="402.04" y="371.60" width="18.93" height="18.90" fill="#7a7aff" stroke="#a9a9b2" stroke-width="0.3"/>
<rect x="420.97" y="371.60" width="18.93" height="18.90" fill="#9898ff" stroke="#a9a9b2" stroke-width="0.3"/>
<rect x="439.90" y="371.60" width="18.93" height="18.90" fill="#ff4646" stroke="#a9a9b2" stroke-width="0.3"/>
<rect x="345.25" y="390.50" width="18.93" height="18.90" fill="#fff5f5" stroke="#a9a9b2" stroke-width="0.3"/>
<rect x="364.18" y="390.50" width="18.93" height="18.90" fill="#ffa0a0" stroke="#a9a9b2" stroke-width="0.3"/>
<rect x="383.11" y="390.50" width="18.93" height="18.90" fill="#0a0aff" stroke="#a9a9b2" stroke-width="0.3"/>
<rect x="402.04" y="390.50" width="18.93" height="18.90" fill="#dcdcff" stroke="#a9a9b2" stroke-width="0.3"/>
<rect x="420.97" y="390.50" width="18.93" height="18.90" fill="#ff8888" stroke="#a9a9b2" stroke-width="0.3"/>
<rect x="439.90" y="390.50" width="18.93" height="18.90" fill="#ffd8d8" stroke="#a9a9b2" stroke-width="0.3"/>
<rect x="345.25" y="409.40" width="18.93" height="18.90" fill="#4040ff" stroke="#a9a9b2" stroke-width="0.3"/>
<rect x="364.18" y="409.40" width="18.93" height="18.90" fill="#ffe4e4" stroke="#a9a9b2" stroke-width="0.3"/>
<rect x="383.11" y="409.40" width="18.93" height="18.90" fill="#9090ff" stroke="#a9a9b2" stroke-width="0.3"/>
<rect x="402.04" y="409.40" width="18.93" height="18.90" fill="#fff4f4" stroke="#a9a9b2" stroke-width="0.3"/>
<rect x="420.97" y="409.40" width="18.93" height="18.90" fill="#ff6868" stroke="#a9a9b2" stroke-width="0.3"/>
<rect x="439.90" y="409.40" width="18.93" height="18.90" fill="#ff9696" stroke="#a9a9b2" stroke-width="0.3"/>
<rect x="345.25" y="428.30" width="18.93" height="18.90" fill="#4545ff" stroke="#a9a9b2" stroke-width="0.3"/>
<rect x="364.18" y="428.30" width="18.93" height="18.90" fill="#ffe0e0" stroke="#a9a9b2" stroke-width="0.3"/>
<rect x="383.11" y="428.30" width="18.93" height="18.90" fill="#aaaaff" stroke="#a9a9b2" stroke-width="0.3"/>
<rect x="402.04" y="428.30" width="18.93" height="18.90" fill="#dcdcff" stroke="#a9a9b2" stroke-width="0.3"/>
<rect x="420.97" y="428.30" width="18.93" height="18.90" fill="#ff8c8c" stroke="#a9a9b2" stroke-width="0.3"/>
<rect x="439.90" y="428.30" width="18.93" height="18.90" fill="#ff6060" stroke="#a9a9b2" stroke-width="0.3"/>
<rect x="345.25" y="447.20" width="18.93" height="18.90" fill="#d8d8ff" stroke="#a9a9b2" stroke-width="0.3"/>
<rect x="364.18" y="447.20" width="18.93" height="18.90" fill="#aaaaff" stroke="#a9a9b2" stroke-width="0.3"/>
<rect x="383.11" y="447.20" width="18.93" height="18.90" fill="#7878ff" stroke="#a9a9b2" stroke-width="0.3"/>
<rect x="402.04" y="447.20" width="18.93" height="18.90" fill="#d2d2ff" stroke="#a9a9b2" stroke-width="0.3"/>
<rect x="420.97" y="447.20" width="18.93" height="18.90" fill="#ffc8c8" stroke="#a9a9b2" stroke-width="0.3"/>
<rect x="439.90" y="447.20" width="18.93" height="18.90" fill="#ff2020" stroke="#a9a9b2" stroke-width="0.3"/>
<rect x="345.25" y="466.10" width="18.93" height="18.90" fill="#6c6cff" stroke="#a9a9b2" stroke-width="0.3"/>
<rect x="364.18" y="466.10" width="18.93" height="18.90" fill="#fdfdff" stroke="#a9a9b2" stroke-width="0.3"/>
<rect x="383.11" y="466.10" width="18.93" height="18.90" fill="#7474ff" stroke="#a9a9b2" stroke-width="0.3"/>
<rect x="402.04" y="466.10" width="18.93" height="18.90" fill="#fffafa" stroke="#a9a9b2" stroke-width="0.3"/>
<rect x="420.97" y="466.10" width="18.93" height="18.90" fill="#ff5050" stroke="#a9a9b2" stroke-width="0.3"/>
<rect x="439.90" y="466.10" width="18.93" height="18.90" fill="#ff9c9c" stroke="#a9a9b2" stroke-width="0.3"/>
<rect x="345.25" y="485.00" width="18.93" height="18.90" fill="#3a3aff" stroke="#a9a9b2" stroke-width="0.3"/>
<rect x="364.18" y="485.00" width="18.93" height="18.90" fill="#ffe8e8" stroke="#a9a9b2" stroke-width="0.3"/>
<rect x="383.11" y="485.00" width="18.93" height="18.90" fill="#8888ff" stroke="#a9a9b2" stroke-width="0.3"/>
<rect x="402.04" y="485.00" width="18.93" height="18.90" fill="#ffc4c4" stroke="#a9a9b2" stroke-width="0.3"/>
<rect x="420.97" y="485.00" width="18.93" height="18.90" fill="#ff7878" stroke="#a9a9b2" stroke-width="0.3"/>
<rect x="439.90" y="485.00" width="18.93" height="18.90" fill="#ffa0a0" stroke="#a9a9b2" stroke-width="0.3"/>
<rect x="345.25" y="503.90" width="18.93" height="18.90" fill="#3030ff" stroke="#a9a9b2" stroke-width="0.3"/>
<rect x="364.18" y="503.90" width="18.93" height="18.90" fill="#ff9898" stroke="#a9a9b2" stroke-width="0.3"/>
<rect x="383.11" y="503.90" width="18.93" height="18.90" fill="#ffe0e0" stroke="#a9a9b2" stroke-width="0.3"/>
<rect x="402.04" y="503.90" width="18.93" height="18.90" fill="#8888ff" stroke="#a9a9b2" stroke-width="0.3"/>
<rect x="420.97" y="503.90" width="18.93" height="18.90" fill="#ff9a9a" stroke="#a9a9b2" stroke-width="0.3"/>
<rect x="439.90" y="503.90" width="18.93" height="18.90" fill="#ffb4b4" stroke="#a9a9b2" stroke-width="0.3"/>
<rect x="345.25" y="522.80" width="18.93" height="18.90" fill="#3838ff" stroke="#a9a9b2" stroke-width="0.3"/>
<rect x="364.18" y="522.80" width="18.93" height="18.90" fill="#fff4f4" stroke="#a9a9b2" stroke-width="0.3"/>
<rect x="383.11" y="522.80" width="18.93" height="18.90" fill="#b4b4ff" stroke="#a9a9b2" stroke-width="0.3"/>
<rect x="402.04" y="522.80" width="18.93" height="18.90" fill="#d2d2ff" stroke="#a9a9b2" stroke-width="0.3"/>
<rect x="420.97" y="522.80" width="18.93" height="18.90" fill="#ff6060" stroke="#a9a9b2" stroke-width="0.3"/>
<rect x="439.90" y="522.80" width="18.93" height="18.90" fill="#ff8282" stroke="#a9a9b2" stroke-width="0.3"/>
<rect x="345.25" y="541.70" width="18.93" height="18.90" fill="#f6f6ff" stroke="#a9a9b2" stroke-width="0.3"/>
<rect x="364.18" y="541.70" width="18.93" height="18.90" fill="#5a5aff" stroke="#a9a9b2" stroke-width="0.3"/>
<rect x="383.11" y="541.70" width="18.93" height="18.90" fill="#7c7cff" stroke="#a9a9b2" stroke-width="0.3"/>
<rect x="402.04" y="541.70" width="18.93" height="18.90" fill="#ffcece" stroke="#a9a9b2" stroke-width="0.3"/>
<rect x="420.97" y="541.70" width="18.93" height="18.90" fill="#ff9c9c" stroke="#a9a9b2" stroke-width="0.3"/>
<rect x="439.90" y="541.70" width="18.93" height="18.90" fill="#ff5e5e" stroke="#a9a9b2" stroke-width="0.3"/>
<rect x="345.25" y="560.60" width="18.93" height="18.90" fill="#fdfdff" stroke="#a9a9b2" stroke-width="0.3"/>
<rect x="364.18" y="560.60" width="18.93" height="18.90" fill="#f4f4ff" stroke="#a9a9b2" stroke-width="0.3"/>
<rect x="383.11" y="560.60" width="18.93" height="18.90" fill="#5858ff" stroke="#a9a9b2" stroke-width="0.3"/>
<rect x="402.04" y="560.60" width="18.93" height="18.90" fill="#8080ff" stroke="#a9a9b2" stroke-width="0.3"/>
<rect x="420.97" y="560.60" width="18.93" height="18.90" fill="#ff6464" stroke="#a9a9b2" stroke-width="0.3"/>
<rect x="439.90" y="560.60" width="18.93" height="18.90" fill="#ff7878" stroke="#a9a9b2" stroke-width="0.3"/>
<rect x="345.25" y="579.50" width="18.93" height="18.90" fill="#bcbcff" stroke="#a9a9b2" stroke-width="0.3"/>
<rect x="364.18" y="579.50" width="18.93" height="18.90" fill="#ff9494" stroke="#a9a9b2" stroke-width="0.3"/>
<rect x="383.11" y="579.50" width="18.93" height="18.90" fill="#7676ff" stroke="#a9a9b2" stroke-width="0.3"/>
<rect x="402.04" y="579.50" width="18.93" height="18.90" fill="#8282ff" stroke="#a9a9b2" stroke-width="0.3"/>
<rect x="420.97" y="579.50" width="18.93" height="18.90" fill="#ff4040" stroke="#a9a9b2" stroke-width="0.3"/>
<rect x="439.90" y="579.50" width="18.93" height="18.90" fill="#fffcfc" stroke="#a9a9b2" stroke-width="0.3"/>
<rect x="345.25" y="598.40" width="18.93" height="18.90" fill="#a0a0ff" stroke="#a9a9b2" stroke-width="0.3"/>
<rect x="364.18" y="598.40" width="18.93" height="18.90" fill="#dcdcff" stroke="#a9a9b2" stroke-width="0.3"/>
<rect x="383.11" y="598.40" width="18.93" height="18.90" fill="#9898ff" stroke="#a9a9b2" stroke-width="0.3"/>
<rect x="402.04" y="598.40" width="18.93" height="18.90" fill="#c8c8ff" stroke="#a9a9b2" stroke-width="0.3"/>
<rect x="420.97" y="598.40" width="18.93" height="18.90" fill="#ffe6e6" stroke="#a9a9b2" stroke-width="0.3"/>
<rect x="439.90" y="598.40" width="18.93" height="18.90" fill="#ff1010" stroke="#a9a9b2" stroke-width="0.3"/>
<text transform="translate(463.24 288.10) scale(1 1.042)" font-size="15.0" font-style="italic">AT5G44565/SCOOP1</text>
<text transform="translate(462.34 308.50) scale(1 1.042)" font-size="15.0" font-style="italic">AT5G44568/SCOOP4/STMP10</text>
<text transform="translate(462.34 328.60) scale(1 1.042)" font-size="15.0" font-style="italic">AT5G44570/SCOOP5</text>
<text transform="translate(463.24 348.50) scale(1 1.042)" font-size="15.0" font-style="italic">AT5G44572/SCOOP6</text>
<text transform="translate(463.54 366.60) scale(1 1.042)" font-size="15.0" font-style="italic">AT5G44575/SCOOP8</text>
<text transform="translate(463.54 384.50) scale(1 1.042)" font-size="15.0" font-style="italic">AT5G44578/SCOOP9</text>
<text transform="translate(463.74 403.70) scale(1 1.042)" font-size="15.0" font-style="italic">AT5G44580/SCOOP10</text>
<text transform="translate(463.74 422.00) scale(1 1.042)" font-size="15.0" font-style="italic">AT5G44582/SCOOP11</text>
<text transform="translate(463.74 441.10) scale(1 1.042)" font-size="15.0" font-style="italic">AT5G44585/SCOOP12</text>
<text transform="translate(463.24 459.90) scale(1 1.042)" font-size="15.0" font-style="italic">AT5G08760/SCOOP15/STMP8</text>
<text transform="translate(462.74 479.20) scale(1 1.042)" font-size="15.0" font-style="italic">AT1G36622/SCOOP23</text>
<text transform="translate(462.74 498.40) scale(1 1.042)" font-size="15.0" font-style="italic">AT1G36640/SCOOP20</text>
<text transform="translate(463.54 518.30) scale(1 1.042)" font-size="15.0" font-style="italic">AT1G22885/SCOOP13/STMP1</text>
<text transform="translate(463.24 537.00) scale(1 1.042)" font-size="15.0" font-style="italic">AT1G22890/SCOOP14/STMP2</text>
<text transform="translate(463.04 555.80) scale(1 1.042)" font-size="15.0" font-style="italic">AT1G65481/SCOOP17</text>
<text transform="translate(462.44 574.90) scale(1 1.042)" font-size="15.0" font-style="italic">AT1G65486/STMP4</text>
<text transform="translate(462.44 593.60) scale(1 1.042)" font-size="15.0" font-style="italic">AT1G65490/STMP5</text>
<text transform="translate(462.44 612.00) scale(1 1.042)" font-size="15.0" font-style="italic">AT1G65510/STMP7</text>
<text transform="translate(355.00 631.30) scale(1 1.042)" font-size="14.7" text-anchor="middle">0</text>
<text transform="translate(373.20 631.30) scale(1 1.042)" font-size="14.7" text-anchor="middle">1</text>
<text transform="translate(392.95 631.30) scale(1 1.042)" font-size="14.7" text-anchor="middle">6</text>
<text transform="translate(412.60 631.30) scale(1 1.042)" font-size="14.7" text-anchor="middle">0</text>
<text transform="translate(430.00 631.30) scale(1 1.042)" font-size="14.7" text-anchor="middle">1</text>
<text transform="translate(449.45 631.30) scale(1 1.042)" font-size="14.7" text-anchor="middle">6</text>
<text transform="translate(462.17 631.30) scale(1 1.000)" font-size="14.7" text-anchor="middle">h</text>
<text transform="translate(476.79 631.30) scale(1 1.042)" font-size="14.7">PIP1</text>
<line x1="347.10" y1="637.45" x2="399.20" y2="637.45" stroke="#3a3a3a" stroke-width="1"/>
<line x1="406.50" y1="637.45" x2="459.10" y2="637.45" stroke="#3a3a3a" stroke-width="1"/>
<text transform="translate(363.24 654.60) scale(1 1.042)" font-size="14.7">WT</text>
<text transform="translate(404.05 654.60) scale(1 1.042)" font-size="14.7" font-style="italic">RLK7<tspan font-size="9.7" dy="-5.3" dx="0.9">ECD</tspan><tspan dy="5.3" font-size="1">&#8203;</tspan>-MIK2<tspan font-size="9.7" dy="-5.3">TK</tspan><tspan dy="5.3" font-size="1">&#8203;</tspan></text>
<rect x="663.1" y="576.8" width="6.0" height="43.7" fill="url(#cb)"/>
<text transform="translate(670.66 581.90) scale(1 1.042)" font-size="12.8">2</text>
<text transform="translate(670.80 601.80) scale(1 1.042)" font-size="12.8">0</text>
<text transform="translate(670.93 622.40) scale(1 1.042)" font-size="12.8">-2</text>
<text transform="translate(662.54 634.30) scale(1 1.010)" font-size="12.8">log<tspan font-size="9.4" dy="2.6">2</tspan></text>
</svg>
</body></html>
